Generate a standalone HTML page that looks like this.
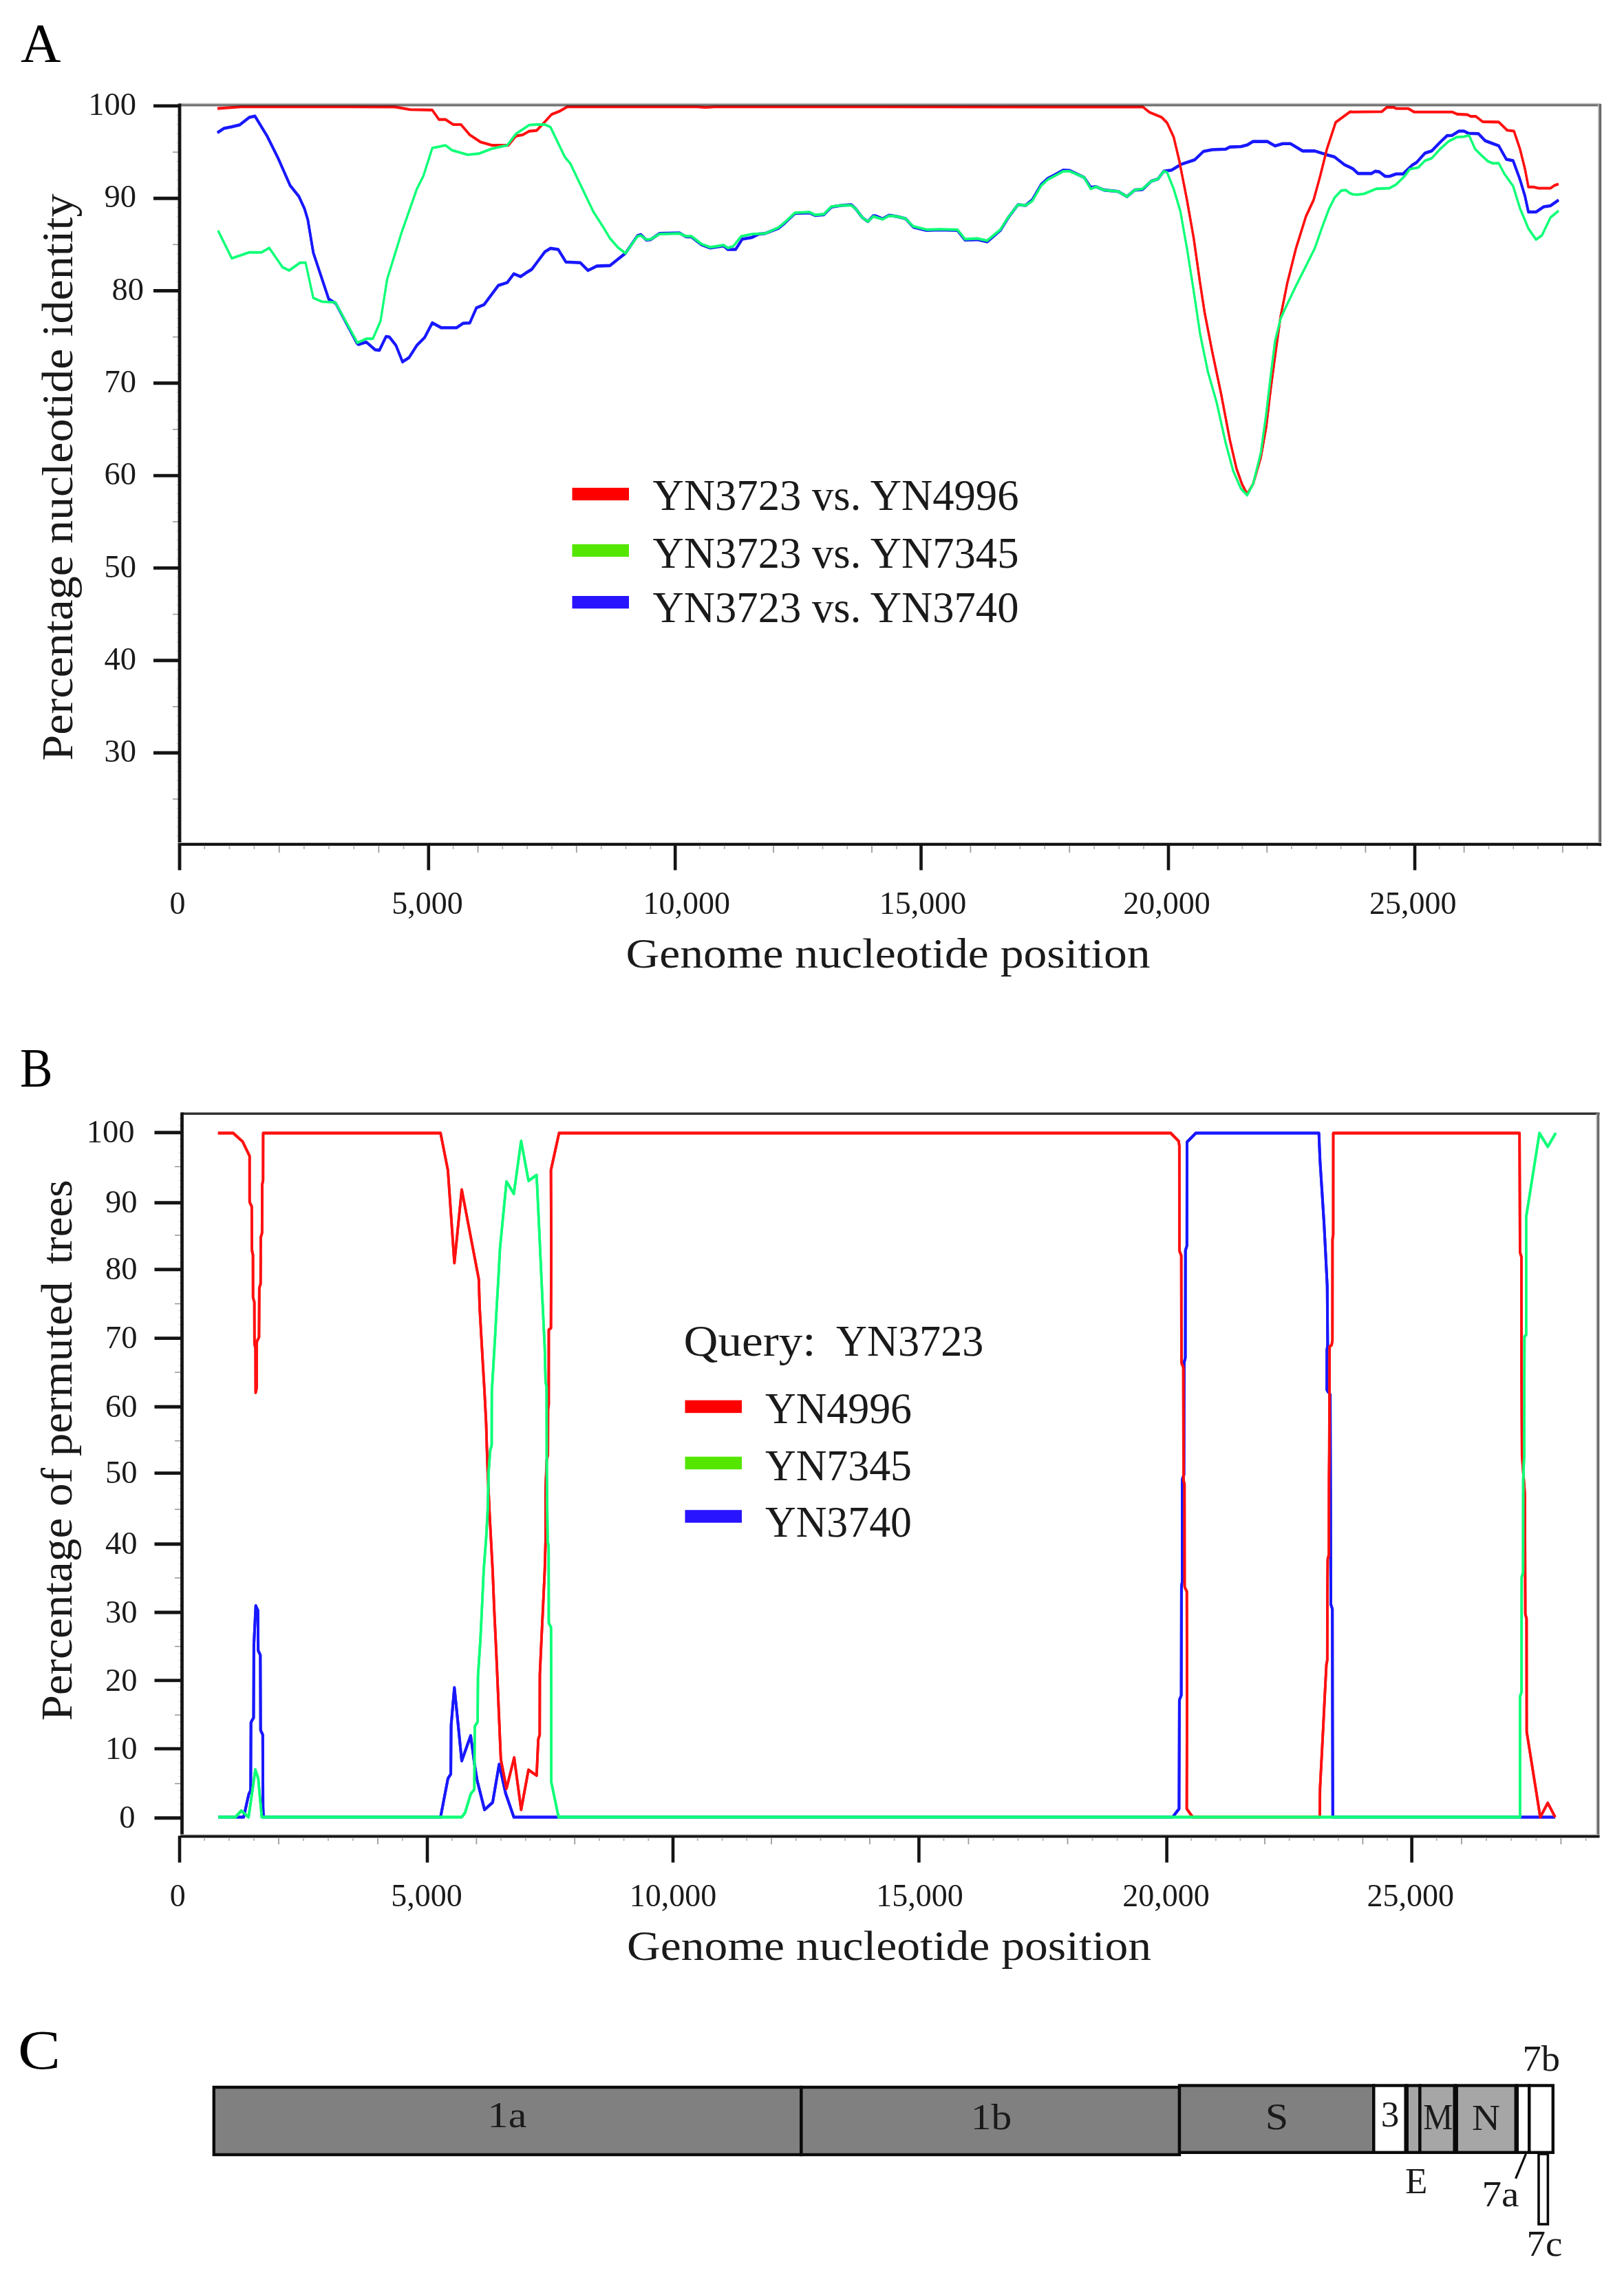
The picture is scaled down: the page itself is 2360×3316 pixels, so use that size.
<!DOCTYPE html>
<html lang="en"><head><meta charset="utf-8"><title>Figure</title>
<style>
html,body{margin:0;padding:0;background:#fff;}
svg{display:block;font-family:"Liberation Serif", serif;filter:blur(0.6px);}
</style></head><body>
<svg width="2360" height="3316" viewBox="0 0 2360 3316">
<rect width="2360" height="3316" fill="#ffffff"/>
<text x="30" y="89.5" font-size="80" textLength="58.5" lengthAdjust="spacingAndGlyphs" fill="#000">A</text>
<g fill="none" stroke="#1818ff" stroke-width="3.6" stroke-linejoin="round" stroke-linecap="butt">
<polyline points="316.0,192.8 325.6,186.4 336.8,184.2 348.1,181.6 362.5,170.4 370.5,168.8 388.1,197.6 404.1,229.7 421.7,269.7 434.5,285.7 442.5,303.3 447.3,319.3 455.3,367.3 477.7,434.6 488.0,441.0 518.7,498.6 521.0,500.5 532.2,497.0 545.0,508.2 551.4,508.9 561.0,489.0 565.8,489.7 575.4,501.8 585.0,525.8 594.6,519.4 605.8,501.8 617.0,490.6 628.2,469.2 641.0,476.2 663.4,476.2 673.1,469.8 682.7,469.2 692.3,447.4 703.5,442.6 724.3,414.7 737.1,410.6 746.7,397.8 756.3,401.9 767.5,394.6 772.8,391.4 782.4,378.5 792.0,365.7 800.0,360.9 811.2,362.5 822.4,380.8 843.3,381.7 854.5,393.0 867.3,386.6 886.5,385.9 897.7,376.9 908.9,368.0 926.5,342.4 931.3,341.1 939.3,348.8 945.7,348.1 958.5,339.2 987.3,338.5 996.9,344.0 1005.0,344.3 1019.4,355.5 1032.2,360.3 1041.8,358.7 1051.4,357.1 1057.8,362.5 1069.0,362.5 1078.6,347.5 1093.0,344.9 1102.6,340.1 1112.2,339.2 1131.4,331.5 1141.0,323.5 1155.4,310.0 1176.3,309.1 1184.3,312.9 1197.1,311.9 1208.3,300.7 1222.7,298.5 1237.1,297.5 1243.5,303.3 1253.1,316.1 1261.1,321.9 1269.1,313.5 1272.8,313.9 1282.4,318.0 1292.0,312.9 1303.2,314.5 1316.0,317.7 1327.2,329.9 1346.5,334.7 1365.7,334.0 1391.3,334.7 1402.5,348.8 1420.1,348.1 1434.5,351.3 1453.7,334.7 1464.9,316.7 1479.3,297.5 1490.5,298.5 1500.1,290.5 1513.0,268.1 1522.6,259.4 1532.2,254.3 1545.0,247.3 1554.6,247.9 1575.4,257.8 1585.0,272.2 1593.0,271.3 1604.2,276.1 1625.0,278.3 1637.8,285.7 1649.0,276.1 1660.2,275.4 1673.1,263.3 1682.7,260.1 1691.2,248.9 1702.4,247.3 1716.8,238.6 1736.1,232.2 1748.9,220.0 1761.7,217.5 1780.9,216.8 1787.3,213.6 1803.3,213.0 1812.9,210.4 1820.9,205.6 1841.7,205.6 1852.9,212.0 1864.1,208.8 1875.3,208.8 1893.0,219.4 1910.6,219.4 1928.2,224.9 1939.4,228.1 1953.8,239.3 1961.8,243.1 1966.2,245.4 1973.5,252.1 1993.3,252.1 1998.2,248.9 2004.3,249.6 2013.0,256.3 2019.1,256.3 2029.0,252.8 2038.8,252.8 2052.4,239.8 2058.5,236.1 2070.8,222.5 2080.7,219.3 2093.0,206.5 2102.9,197.1 2110.2,196.7 2120.1,190.5 2127.5,190.5 2133.6,193.7 2148.4,194.2 2158.3,204.5 2166.9,207.7 2178.0,211.9 2189.1,231.6 2198.9,233.6 2208.8,260.7 2216.2,285.3 2221.1,308.0 2232.2,308.0 2243.3,300.6 2253.1,298.9 2264.9,290.7" transform="translate(0,-0.5)"/>
<polyline points="316.0,192.8 325.6,186.4 336.8,184.2 348.1,181.6 362.5,170.4 370.5,168.8 388.1,197.6 404.1,229.7 421.7,269.7 434.5,285.7 442.5,303.3 447.3,319.3 455.3,367.3 477.7,434.6 488.0,441.0 518.7,498.6 521.0,500.5 532.2,497.0 545.0,508.2 551.4,508.9 561.0,489.0 565.8,489.7 575.4,501.8 585.0,525.8 594.6,519.4 605.8,501.8 617.0,490.6 628.2,469.2 641.0,476.2 663.4,476.2 673.1,469.8 682.7,469.2 692.3,447.4 703.5,442.6 724.3,414.7 737.1,410.6 746.7,397.8 756.3,401.9 767.5,394.6 772.8,391.4 782.4,378.5 792.0,365.7 800.0,360.9 811.2,362.5 822.4,380.8 843.3,381.7 854.5,393.0 867.3,386.6 886.5,385.9 897.7,376.9 908.9,368.0 926.5,342.4 931.3,341.1 939.3,348.8 945.7,348.1 958.5,339.2 987.3,338.5 996.9,344.0 1005.0,344.3 1019.4,355.5 1032.2,360.3 1041.8,358.7 1051.4,357.1 1057.8,362.5 1069.0,362.5 1078.6,347.5 1093.0,344.9 1102.6,340.1 1112.2,339.2 1131.4,331.5 1141.0,323.5 1155.4,310.0 1176.3,309.1 1184.3,312.9 1197.1,311.9 1208.3,300.7 1222.7,298.5 1237.1,297.5 1243.5,303.3 1253.1,316.1 1261.1,321.9 1269.1,313.5 1272.8,313.9 1282.4,318.0 1292.0,312.9 1303.2,314.5 1316.0,317.7 1327.2,329.9 1346.5,334.7 1365.7,334.0 1391.3,334.7 1402.5,348.8 1420.1,348.1 1434.5,351.3 1453.7,334.7 1464.9,316.7 1479.3,297.5 1490.5,298.5 1500.1,290.5 1513.0,268.1 1522.6,259.4 1532.2,254.3 1545.0,247.3 1554.6,247.9 1575.4,257.8 1585.0,272.2 1593.0,271.3 1604.2,276.1 1625.0,278.3 1637.8,285.7 1649.0,276.1 1660.2,275.4 1673.1,263.3 1682.7,260.1 1691.2,248.9 1702.4,247.3 1716.8,238.6 1736.1,232.2 1748.9,220.0 1761.7,217.5 1780.9,216.8 1787.3,213.6 1803.3,213.0 1812.9,210.4 1820.9,205.6 1841.7,205.6 1852.9,212.0 1864.1,208.8 1875.3,208.8 1893.0,219.4 1910.6,219.4 1928.2,224.9 1939.4,228.1 1953.8,239.3 1961.8,243.1 1966.2,245.4 1973.5,252.1 1993.3,252.1 1998.2,248.9 2004.3,249.6 2013.0,256.3 2019.1,256.3 2029.0,252.8 2038.8,252.8 2052.4,239.8 2058.5,236.1 2070.8,222.5 2080.7,219.3 2093.0,206.5 2102.9,197.1 2110.2,196.7 2120.1,190.5 2127.5,190.5 2133.6,193.7 2148.4,194.2 2158.3,204.5 2166.9,207.7 2178.0,211.9 2189.1,231.6 2198.9,233.6 2208.8,260.7 2216.2,285.3 2221.1,308.0 2232.2,308.0 2243.3,300.6 2253.1,298.9 2264.9,290.7" transform="translate(0,0.5)"/>
</g>
<g fill="none" stroke="#ff1010" stroke-width="3.2" stroke-linejoin="round" stroke-linecap="butt">
<polyline points="316.0,157.6 349.7,155.3 500.1,155.3 573.8,155.4 596.2,159.2 628.2,159.9 637.8,173.6 647.4,173.6 658.6,181.0 669.9,181.0 682.7,196.0 698.7,206.6 714.7,211.1 738.7,211.1 749.9,197.6 759.5,196.0 769.1,190.6 779.9,189.6 792.0,176.8 801.6,166.3 812.8,161.8 824.0,155.3 1013.0,155.3 1025.8,156.0 1038.6,155.3 1280.0,155.3 1660.8,155.4 1670.4,163.1 1688.0,170.4 1696.0,178.4 1705.6,199.2 1713.6,232.9 1724.9,290.5 1734.5,344.9 1744.1,412.2 1750.5,453.8 1761.7,511.4 1774.5,572.3 1787.3,639.5 1796.9,681.1 1804.9,703.5 1812.3,718.0 1820.9,703.5 1832.1,665.1 1840.1,620.3 1846.5,565.9 1852.9,517.8 1860.9,460.2 1870.5,412.2 1883.3,360.9 1897.8,314.5 1909.0,290.5 1918.6,255.3 1928.2,216.8 1941.0,177.8 1961.8,162.4 1966.2,162.7 2008.0,162.2 2015.4,156.0 2025.3,156.0 2029.0,157.7 2046.2,157.7 2054.8,162.7 2110.2,162.7 2117.6,165.9 2132.4,166.6 2137.3,169.1 2144.7,169.1 2154.6,176.9 2178.0,177.4 2190.3,189.3 2200.1,190.5 2208.8,216.4 2216.2,245.9 2221.1,271.8 2228.5,271.8 2235.9,273.5 2253.1,273.5 2259.3,269.3 2264.9,267.6" transform="translate(0,-0.45)"/>
<polyline points="316.0,157.6 349.7,155.3 500.1,155.3 573.8,155.4 596.2,159.2 628.2,159.9 637.8,173.6 647.4,173.6 658.6,181.0 669.9,181.0 682.7,196.0 698.7,206.6 714.7,211.1 738.7,211.1 749.9,197.6 759.5,196.0 769.1,190.6 779.9,189.6 792.0,176.8 801.6,166.3 812.8,161.8 824.0,155.3 1013.0,155.3 1025.8,156.0 1038.6,155.3 1280.0,155.3 1660.8,155.4 1670.4,163.1 1688.0,170.4 1696.0,178.4 1705.6,199.2 1713.6,232.9 1724.9,290.5 1734.5,344.9 1744.1,412.2 1750.5,453.8 1761.7,511.4 1774.5,572.3 1787.3,639.5 1796.9,681.1 1804.9,703.5 1812.3,718.0 1820.9,703.5 1832.1,665.1 1840.1,620.3 1846.5,565.9 1852.9,517.8 1860.9,460.2 1870.5,412.2 1883.3,360.9 1897.8,314.5 1909.0,290.5 1918.6,255.3 1928.2,216.8 1941.0,177.8 1961.8,162.4 1966.2,162.7 2008.0,162.2 2015.4,156.0 2025.3,156.0 2029.0,157.7 2046.2,157.7 2054.8,162.7 2110.2,162.7 2117.6,165.9 2132.4,166.6 2137.3,169.1 2144.7,169.1 2154.6,176.9 2178.0,177.4 2190.3,189.3 2200.1,190.5 2208.8,216.4 2216.2,245.9 2221.1,271.8 2228.5,271.8 2235.9,273.5 2253.1,273.5 2259.3,269.3 2264.9,267.6" transform="translate(0,0.45)"/>
</g>
<g fill="none" stroke="#10ff78" stroke-width="3.0" stroke-linejoin="round" stroke-linecap="butt">
<polyline points="317.0,335.3 336.8,375.3 362.5,366.7 380.1,366.7 391.3,360.3 410.5,388.2 420.1,393.0 436.1,381.7 444.1,381.7 455.3,433.0 468.1,438.4 487.3,439.4 519.4,498.0 532.2,492.2 541.8,492.2 553.0,466.6 562.6,405.8 583.4,338.5 605.8,274.5 615.4,255.3 628.2,215.2 647.4,211.1 657.0,218.4 679.5,224.9 695.5,223.3 714.7,216.2 737.1,211.1 749.9,194.4 769.1,181.6 779.9,181.0 792.0,181.0 800.0,184.8 820.8,228.1 828.8,237.7 862.5,308.1 876.9,330.5 886.5,346.5 897.7,359.3 908.9,368.0 926.5,343.3 931.3,342.4 939.3,348.1 945.7,347.5 958.5,340.1 987.3,339.2 996.9,343.3 1005.0,343.3 1019.4,354.5 1032.2,359.3 1041.8,357.7 1051.4,356.1 1057.8,360.3 1065.8,357.7 1077.0,343.3 1093.0,340.1 1112.2,339.2 1131.4,330.5 1141.0,322.5 1155.4,309.1 1176.3,308.1 1184.3,312.3 1197.1,311.3 1208.3,300.1 1222.7,298.5 1237.1,298.5 1243.5,303.3 1253.1,316.1 1261.1,321.9 1269.1,314.5 1282.4,318.7 1292.0,313.5 1303.2,314.5 1316.0,317.7 1327.2,328.9 1346.5,333.7 1365.7,333.1 1391.3,333.7 1402.5,347.5 1420.1,346.5 1434.5,349.7 1453.7,333.7 1464.9,316.1 1479.3,297.5 1490.5,298.5 1500.1,292.1 1513.0,269.7 1522.6,261.0 1532.2,255.9 1545.0,248.9 1554.6,248.9 1575.4,257.8 1585.0,274.5 1593.0,271.3 1604.2,276.1 1625.0,278.3 1637.8,285.7 1649.0,276.1 1660.2,274.5 1673.1,263.3 1682.7,260.1 1691.2,248.9 1696.0,250.5 1705.6,274.5 1715.2,306.5 1724.9,360.9 1734.5,421.8 1744.1,485.8 1755.3,540.2 1768.1,585.1 1780.9,642.7 1792.1,684.3 1803.3,710.0 1812.3,719.6 1820.9,703.5 1832.1,658.7 1840.1,601.1 1846.5,546.7 1852.9,495.4 1860.9,463.4 1867.3,449.0 1883.3,415.4 1896.2,389.8 1910.6,360.9 1921.8,328.9 1931.4,303.3 1939.4,287.3 1949.0,277.0 1955.4,276.1 1961.8,280.9 1966.2,282.4 1972.3,282.9 1982.2,281.6 2000.6,274.2 2019.1,273.5 2029.0,268.1 2041.3,255.8 2048.7,245.9 2061.0,243.4 2070.8,233.6 2080.7,229.9 2093.0,216.4 2105.3,205.3 2117.6,199.1 2127.5,198.6 2134.9,196.7 2143.5,216.4 2152.1,225.0 2162.0,234.1 2169.4,237.3 2178.0,237.3 2186.6,253.3 2198.9,270.5 2208.8,302.6 2221.1,332.1 2232.2,348.1 2240.8,342.0 2253.1,316.1 2264.9,306.3" transform="translate(0,-0.45)"/>
<polyline points="317.0,335.3 336.8,375.3 362.5,366.7 380.1,366.7 391.3,360.3 410.5,388.2 420.1,393.0 436.1,381.7 444.1,381.7 455.3,433.0 468.1,438.4 487.3,439.4 519.4,498.0 532.2,492.2 541.8,492.2 553.0,466.6 562.6,405.8 583.4,338.5 605.8,274.5 615.4,255.3 628.2,215.2 647.4,211.1 657.0,218.4 679.5,224.9 695.5,223.3 714.7,216.2 737.1,211.1 749.9,194.4 769.1,181.6 779.9,181.0 792.0,181.0 800.0,184.8 820.8,228.1 828.8,237.7 862.5,308.1 876.9,330.5 886.5,346.5 897.7,359.3 908.9,368.0 926.5,343.3 931.3,342.4 939.3,348.1 945.7,347.5 958.5,340.1 987.3,339.2 996.9,343.3 1005.0,343.3 1019.4,354.5 1032.2,359.3 1041.8,357.7 1051.4,356.1 1057.8,360.3 1065.8,357.7 1077.0,343.3 1093.0,340.1 1112.2,339.2 1131.4,330.5 1141.0,322.5 1155.4,309.1 1176.3,308.1 1184.3,312.3 1197.1,311.3 1208.3,300.1 1222.7,298.5 1237.1,298.5 1243.5,303.3 1253.1,316.1 1261.1,321.9 1269.1,314.5 1282.4,318.7 1292.0,313.5 1303.2,314.5 1316.0,317.7 1327.2,328.9 1346.5,333.7 1365.7,333.1 1391.3,333.7 1402.5,347.5 1420.1,346.5 1434.5,349.7 1453.7,333.7 1464.9,316.1 1479.3,297.5 1490.5,298.5 1500.1,292.1 1513.0,269.7 1522.6,261.0 1532.2,255.9 1545.0,248.9 1554.6,248.9 1575.4,257.8 1585.0,274.5 1593.0,271.3 1604.2,276.1 1625.0,278.3 1637.8,285.7 1649.0,276.1 1660.2,274.5 1673.1,263.3 1682.7,260.1 1691.2,248.9 1696.0,250.5 1705.6,274.5 1715.2,306.5 1724.9,360.9 1734.5,421.8 1744.1,485.8 1755.3,540.2 1768.1,585.1 1780.9,642.7 1792.1,684.3 1803.3,710.0 1812.3,719.6 1820.9,703.5 1832.1,658.7 1840.1,601.1 1846.5,546.7 1852.9,495.4 1860.9,463.4 1867.3,449.0 1883.3,415.4 1896.2,389.8 1910.6,360.9 1921.8,328.9 1931.4,303.3 1939.4,287.3 1949.0,277.0 1955.4,276.1 1961.8,280.9 1966.2,282.4 1972.3,282.9 1982.2,281.6 2000.6,274.2 2019.1,273.5 2029.0,268.1 2041.3,255.8 2048.7,245.9 2061.0,243.4 2070.8,233.6 2080.7,229.9 2093.0,216.4 2105.3,205.3 2117.6,199.1 2127.5,198.6 2134.9,196.7 2143.5,216.4 2152.1,225.0 2162.0,234.1 2169.4,237.3 2178.0,237.3 2186.6,253.3 2198.9,270.5 2208.8,302.6 2221.1,332.1 2232.2,348.1 2240.8,342.0 2253.1,316.1 2264.9,306.3" transform="translate(0,0.45)"/>
</g>
<g style="mix-blend-mode:multiply">
<line x1="261" y1="150.6" x2="2326" y2="150.6" stroke="#c4c8c8" stroke-width="1.6" stroke-linecap="butt"/>
<line x1="261" y1="152.9" x2="2326.5" y2="152.9" stroke="#707070" stroke-width="3.2" stroke-linecap="butt"/>
<line x1="2322.9" y1="151" x2="2322.9" y2="1227.5" stroke="#c4c4c4" stroke-width="1.6" stroke-linecap="butt"/>
<line x1="2325.4" y1="151" x2="2325.4" y2="1229.5" stroke="#6a6a6a" stroke-width="3.6" stroke-linecap="butt"/>
</g>
<line x1="251" y1="1161.15" x2="261" y2="1161.15" stroke="#9a9a9a" stroke-width="1.6" stroke-linecap="butt"/>
<line x1="251" y1="1026.85" x2="261" y2="1026.85" stroke="#9a9a9a" stroke-width="1.6" stroke-linecap="butt"/>
<line x1="251" y1="892.55" x2="261" y2="892.55" stroke="#9a9a9a" stroke-width="1.6" stroke-linecap="butt"/>
<line x1="251" y1="758.25" x2="261" y2="758.25" stroke="#9a9a9a" stroke-width="1.6" stroke-linecap="butt"/>
<line x1="251" y1="623.95" x2="261" y2="623.95" stroke="#9a9a9a" stroke-width="1.6" stroke-linecap="butt"/>
<line x1="251" y1="489.65" x2="261" y2="489.65" stroke="#9a9a9a" stroke-width="1.6" stroke-linecap="butt"/>
<line x1="251" y1="355.35" x2="261" y2="355.35" stroke="#9a9a9a" stroke-width="1.6" stroke-linecap="butt"/>
<line x1="251" y1="221.05" x2="261" y2="221.05" stroke="#9a9a9a" stroke-width="1.6" stroke-linecap="butt"/>
<line x1="256.5" y1="1214.8700000000001" x2="261" y2="1214.8700000000001" stroke="#c8c8c8" stroke-width="1" stroke-linecap="butt"/>
<line x1="256.5" y1="1201.44" x2="261" y2="1201.44" stroke="#c8c8c8" stroke-width="1" stroke-linecap="butt"/>
<line x1="256.5" y1="1188.01" x2="261" y2="1188.01" stroke="#c8c8c8" stroke-width="1" stroke-linecap="butt"/>
<line x1="256.5" y1="1174.58" x2="261" y2="1174.58" stroke="#c8c8c8" stroke-width="1" stroke-linecap="butt"/>
<line x1="256.5" y1="1147.72" x2="261" y2="1147.72" stroke="#c8c8c8" stroke-width="1" stroke-linecap="butt"/>
<line x1="256.5" y1="1134.29" x2="261" y2="1134.29" stroke="#c8c8c8" stroke-width="1" stroke-linecap="butt"/>
<line x1="256.5" y1="1120.8600000000001" x2="261" y2="1120.8600000000001" stroke="#c8c8c8" stroke-width="1" stroke-linecap="butt"/>
<line x1="256.5" y1="1107.43" x2="261" y2="1107.43" stroke="#c8c8c8" stroke-width="1" stroke-linecap="butt"/>
<line x1="256.5" y1="1080.57" x2="261" y2="1080.57" stroke="#c8c8c8" stroke-width="1" stroke-linecap="butt"/>
<line x1="256.5" y1="1067.14" x2="261" y2="1067.14" stroke="#c8c8c8" stroke-width="1" stroke-linecap="butt"/>
<line x1="256.5" y1="1053.71" x2="261" y2="1053.71" stroke="#c8c8c8" stroke-width="1" stroke-linecap="butt"/>
<line x1="256.5" y1="1040.28" x2="261" y2="1040.28" stroke="#c8c8c8" stroke-width="1" stroke-linecap="butt"/>
<line x1="256.5" y1="1013.42" x2="261" y2="1013.42" stroke="#c8c8c8" stroke-width="1" stroke-linecap="butt"/>
<line x1="256.5" y1="999.99" x2="261" y2="999.99" stroke="#c8c8c8" stroke-width="1" stroke-linecap="butt"/>
<line x1="256.5" y1="986.56" x2="261" y2="986.56" stroke="#c8c8c8" stroke-width="1" stroke-linecap="butt"/>
<line x1="256.5" y1="973.13" x2="261" y2="973.13" stroke="#c8c8c8" stroke-width="1" stroke-linecap="butt"/>
<line x1="256.5" y1="946.27" x2="261" y2="946.27" stroke="#c8c8c8" stroke-width="1" stroke-linecap="butt"/>
<line x1="256.5" y1="932.8399999999999" x2="261" y2="932.8399999999999" stroke="#c8c8c8" stroke-width="1" stroke-linecap="butt"/>
<line x1="256.5" y1="919.41" x2="261" y2="919.41" stroke="#c8c8c8" stroke-width="1" stroke-linecap="butt"/>
<line x1="256.5" y1="905.9799999999999" x2="261" y2="905.9799999999999" stroke="#c8c8c8" stroke-width="1" stroke-linecap="butt"/>
<line x1="256.5" y1="879.12" x2="261" y2="879.12" stroke="#c8c8c8" stroke-width="1" stroke-linecap="butt"/>
<line x1="256.5" y1="865.6899999999999" x2="261" y2="865.6899999999999" stroke="#c8c8c8" stroke-width="1" stroke-linecap="butt"/>
<line x1="256.5" y1="852.26" x2="261" y2="852.26" stroke="#c8c8c8" stroke-width="1" stroke-linecap="butt"/>
<line x1="256.5" y1="838.8299999999999" x2="261" y2="838.8299999999999" stroke="#c8c8c8" stroke-width="1" stroke-linecap="butt"/>
<line x1="256.5" y1="811.9699999999999" x2="261" y2="811.9699999999999" stroke="#c8c8c8" stroke-width="1" stroke-linecap="butt"/>
<line x1="256.5" y1="798.54" x2="261" y2="798.54" stroke="#c8c8c8" stroke-width="1" stroke-linecap="butt"/>
<line x1="256.5" y1="785.11" x2="261" y2="785.11" stroke="#c8c8c8" stroke-width="1" stroke-linecap="butt"/>
<line x1="256.5" y1="771.68" x2="261" y2="771.68" stroke="#c8c8c8" stroke-width="1" stroke-linecap="butt"/>
<line x1="256.5" y1="744.8199999999999" x2="261" y2="744.8199999999999" stroke="#c8c8c8" stroke-width="1" stroke-linecap="butt"/>
<line x1="256.5" y1="731.39" x2="261" y2="731.39" stroke="#c8c8c8" stroke-width="1" stroke-linecap="butt"/>
<line x1="256.5" y1="717.9599999999999" x2="261" y2="717.9599999999999" stroke="#c8c8c8" stroke-width="1" stroke-linecap="butt"/>
<line x1="256.5" y1="704.53" x2="261" y2="704.53" stroke="#c8c8c8" stroke-width="1" stroke-linecap="butt"/>
<line x1="256.5" y1="677.67" x2="261" y2="677.67" stroke="#c8c8c8" stroke-width="1" stroke-linecap="butt"/>
<line x1="256.5" y1="664.24" x2="261" y2="664.24" stroke="#c8c8c8" stroke-width="1" stroke-linecap="butt"/>
<line x1="256.5" y1="650.81" x2="261" y2="650.81" stroke="#c8c8c8" stroke-width="1" stroke-linecap="butt"/>
<line x1="256.5" y1="637.38" x2="261" y2="637.38" stroke="#c8c8c8" stroke-width="1" stroke-linecap="butt"/>
<line x1="256.5" y1="610.52" x2="261" y2="610.52" stroke="#c8c8c8" stroke-width="1" stroke-linecap="butt"/>
<line x1="256.5" y1="597.09" x2="261" y2="597.09" stroke="#c8c8c8" stroke-width="1" stroke-linecap="butt"/>
<line x1="256.5" y1="583.66" x2="261" y2="583.66" stroke="#c8c8c8" stroke-width="1" stroke-linecap="butt"/>
<line x1="256.5" y1="570.23" x2="261" y2="570.23" stroke="#c8c8c8" stroke-width="1" stroke-linecap="butt"/>
<line x1="256.5" y1="543.37" x2="261" y2="543.37" stroke="#c8c8c8" stroke-width="1" stroke-linecap="butt"/>
<line x1="256.5" y1="529.9399999999999" x2="261" y2="529.9399999999999" stroke="#c8c8c8" stroke-width="1" stroke-linecap="butt"/>
<line x1="256.5" y1="516.51" x2="261" y2="516.51" stroke="#c8c8c8" stroke-width="1" stroke-linecap="butt"/>
<line x1="256.5" y1="503.08000000000004" x2="261" y2="503.08000000000004" stroke="#c8c8c8" stroke-width="1" stroke-linecap="butt"/>
<line x1="256.5" y1="476.22" x2="261" y2="476.22" stroke="#c8c8c8" stroke-width="1" stroke-linecap="butt"/>
<line x1="256.5" y1="462.78999999999996" x2="261" y2="462.78999999999996" stroke="#c8c8c8" stroke-width="1" stroke-linecap="butt"/>
<line x1="256.5" y1="449.36" x2="261" y2="449.36" stroke="#c8c8c8" stroke-width="1" stroke-linecap="butt"/>
<line x1="256.5" y1="435.92999999999995" x2="261" y2="435.92999999999995" stroke="#c8c8c8" stroke-width="1" stroke-linecap="butt"/>
<line x1="256.5" y1="409.07" x2="261" y2="409.07" stroke="#c8c8c8" stroke-width="1" stroke-linecap="butt"/>
<line x1="256.5" y1="395.64" x2="261" y2="395.64" stroke="#c8c8c8" stroke-width="1" stroke-linecap="butt"/>
<line x1="256.5" y1="382.21000000000004" x2="261" y2="382.21000000000004" stroke="#c8c8c8" stroke-width="1" stroke-linecap="butt"/>
<line x1="256.5" y1="368.78" x2="261" y2="368.78" stroke="#c8c8c8" stroke-width="1" stroke-linecap="butt"/>
<line x1="256.5" y1="341.91999999999996" x2="261" y2="341.91999999999996" stroke="#c8c8c8" stroke-width="1" stroke-linecap="butt"/>
<line x1="256.5" y1="328.49" x2="261" y2="328.49" stroke="#c8c8c8" stroke-width="1" stroke-linecap="butt"/>
<line x1="256.5" y1="315.06" x2="261" y2="315.06" stroke="#c8c8c8" stroke-width="1" stroke-linecap="butt"/>
<line x1="256.5" y1="301.63" x2="261" y2="301.63" stroke="#c8c8c8" stroke-width="1" stroke-linecap="butt"/>
<line x1="256.5" y1="274.77" x2="261" y2="274.77" stroke="#c8c8c8" stroke-width="1" stroke-linecap="butt"/>
<line x1="256.5" y1="261.34000000000003" x2="261" y2="261.34000000000003" stroke="#c8c8c8" stroke-width="1" stroke-linecap="butt"/>
<line x1="256.5" y1="247.91" x2="261" y2="247.91" stroke="#c8c8c8" stroke-width="1" stroke-linecap="butt"/>
<line x1="256.5" y1="234.48000000000002" x2="261" y2="234.48000000000002" stroke="#c8c8c8" stroke-width="1" stroke-linecap="butt"/>
<line x1="256.5" y1="207.62" x2="261" y2="207.62" stroke="#c8c8c8" stroke-width="1" stroke-linecap="butt"/>
<line x1="256.5" y1="194.19" x2="261" y2="194.19" stroke="#c8c8c8" stroke-width="1" stroke-linecap="butt"/>
<line x1="256.5" y1="180.76" x2="261" y2="180.76" stroke="#c8c8c8" stroke-width="1" stroke-linecap="butt"/>
<line x1="256.5" y1="167.33" x2="261" y2="167.33" stroke="#c8c8c8" stroke-width="1" stroke-linecap="butt"/>
<line x1="261" y1="150.5" x2="261" y2="1264.5" stroke="#141414" stroke-width="4.8" stroke-linecap="butt"/>
<line x1="259" y1="1224.6" x2="2327" y2="1224.6" stroke="#b8b8b8" stroke-width="1.4" stroke-linecap="butt"/>
<line x1="259" y1="1227" x2="2327" y2="1227" stroke="#141414" stroke-width="3.8" stroke-linecap="butt"/>
<line x1="223" y1="1094.0" x2="261" y2="1094.0" stroke="#141414" stroke-width="4.9" stroke-linecap="butt"/>
<text x="198" y="1107.2" font-size="46.5" text-anchor="end" fill="#1a1a1a">30</text>
<line x1="223" y1="959.6999999999999" x2="261" y2="959.6999999999999" stroke="#141414" stroke-width="4.9" stroke-linecap="butt"/>
<text x="198" y="972.9" font-size="46.5" text-anchor="end" fill="#1a1a1a">40</text>
<line x1="223" y1="825.4" x2="261" y2="825.4" stroke="#141414" stroke-width="4.9" stroke-linecap="butt"/>
<text x="198" y="838.6" font-size="46.5" text-anchor="end" fill="#1a1a1a">50</text>
<line x1="223" y1="691.1" x2="261" y2="691.1" stroke="#141414" stroke-width="4.9" stroke-linecap="butt"/>
<text x="198" y="704.3" font-size="46.5" text-anchor="end" fill="#1a1a1a">60</text>
<line x1="223" y1="556.8" x2="261" y2="556.8" stroke="#141414" stroke-width="4.9" stroke-linecap="butt"/>
<text x="198" y="570.0" font-size="46.5" text-anchor="end" fill="#1a1a1a">70</text>
<line x1="223" y1="422.5" x2="261" y2="422.5" stroke="#141414" stroke-width="4.9" stroke-linecap="butt"/>
<text x="209" y="435.7" font-size="46.5" text-anchor="end" fill="#1a1a1a">80</text>
<line x1="223" y1="288.20000000000005" x2="261" y2="288.20000000000005" stroke="#141414" stroke-width="4.9" stroke-linecap="butt"/>
<text x="198" y="301.4" font-size="46.5" text-anchor="end" fill="#1a1a1a">90</text>
<line x1="223" y1="153.9" x2="261" y2="153.9" stroke="#141414" stroke-width="4.9" stroke-linecap="butt"/>
<text x="198" y="167.1" font-size="46.5" text-anchor="end" fill="#1a1a1a">100</text>
<text x="258" y="1328" font-size="46" text-anchor="middle" fill="#1a1a1a">0</text>
<line x1="622.8" y1="1227.5" x2="622.8" y2="1264.5" stroke="#141414" stroke-width="4.6" stroke-linecap="butt"/>
<text x="621" y="1328" font-size="46" text-anchor="middle" fill="#1a1a1a">5,000</text>
<line x1="981.2" y1="1227.5" x2="981.2" y2="1264.5" stroke="#141414" stroke-width="4.6" stroke-linecap="butt"/>
<text x="997.8" y="1328" font-size="46" text-anchor="middle" fill="#1a1a1a">10,000</text>
<line x1="1338.5" y1="1227.5" x2="1338.5" y2="1264.5" stroke="#141414" stroke-width="4.6" stroke-linecap="butt"/>
<text x="1340.9" y="1328" font-size="46" text-anchor="middle" fill="#1a1a1a">15,000</text>
<line x1="1698.0" y1="1227.5" x2="1698.0" y2="1264.5" stroke="#141414" stroke-width="4.6" stroke-linecap="butt"/>
<text x="1695.5" y="1328" font-size="46" text-anchor="middle" fill="#1a1a1a">20,000</text>
<line x1="2056.0" y1="1227.5" x2="2056.0" y2="1264.5" stroke="#141414" stroke-width="4.6" stroke-linecap="butt"/>
<text x="2053.3" y="1328" font-size="46" text-anchor="middle" fill="#1a1a1a">25,000</text>
<line x1="297.2" y1="1228.8" x2="297.2" y2="1234.0" stroke="#b4b4b4" stroke-width="1.8" stroke-linecap="butt"/>
<line x1="333.4" y1="1228.8" x2="333.4" y2="1234.0" stroke="#b4b4b4" stroke-width="1.8" stroke-linecap="butt"/>
<line x1="369.5" y1="1228.8" x2="369.5" y2="1234.0" stroke="#b4b4b4" stroke-width="1.8" stroke-linecap="butt"/>
<line x1="405.7" y1="1228.8" x2="405.7" y2="1239.0" stroke="#9c9c9c" stroke-width="1.8" stroke-linecap="butt"/>
<line x1="441.9" y1="1228.8" x2="441.9" y2="1234.0" stroke="#b4b4b4" stroke-width="1.8" stroke-linecap="butt"/>
<line x1="478.1" y1="1228.8" x2="478.1" y2="1234.0" stroke="#b4b4b4" stroke-width="1.8" stroke-linecap="butt"/>
<line x1="514.3" y1="1228.8" x2="514.3" y2="1234.0" stroke="#b4b4b4" stroke-width="1.8" stroke-linecap="butt"/>
<line x1="550.4" y1="1228.8" x2="550.4" y2="1239.0" stroke="#9c9c9c" stroke-width="1.8" stroke-linecap="butt"/>
<line x1="586.6" y1="1228.8" x2="586.6" y2="1234.0" stroke="#b4b4b4" stroke-width="1.8" stroke-linecap="butt"/>
<line x1="658.6" y1="1228.8" x2="658.6" y2="1234.0" stroke="#b4b4b4" stroke-width="1.8" stroke-linecap="butt"/>
<line x1="694.5" y1="1228.8" x2="694.5" y2="1239.0" stroke="#9c9c9c" stroke-width="1.8" stroke-linecap="butt"/>
<line x1="730.3" y1="1228.8" x2="730.3" y2="1234.0" stroke="#b4b4b4" stroke-width="1.8" stroke-linecap="butt"/>
<line x1="766.2" y1="1228.8" x2="766.2" y2="1234.0" stroke="#b4b4b4" stroke-width="1.8" stroke-linecap="butt"/>
<line x1="802.0" y1="1228.8" x2="802.0" y2="1234.0" stroke="#b4b4b4" stroke-width="1.8" stroke-linecap="butt"/>
<line x1="837.8" y1="1228.8" x2="837.8" y2="1239.0" stroke="#9c9c9c" stroke-width="1.8" stroke-linecap="butt"/>
<line x1="873.7" y1="1228.8" x2="873.7" y2="1234.0" stroke="#b4b4b4" stroke-width="1.8" stroke-linecap="butt"/>
<line x1="909.5" y1="1228.8" x2="909.5" y2="1234.0" stroke="#b4b4b4" stroke-width="1.8" stroke-linecap="butt"/>
<line x1="945.4" y1="1228.8" x2="945.4" y2="1234.0" stroke="#b4b4b4" stroke-width="1.8" stroke-linecap="butt"/>
<line x1="1016.9" y1="1228.8" x2="1016.9" y2="1234.0" stroke="#b4b4b4" stroke-width="1.8" stroke-linecap="butt"/>
<line x1="1052.7" y1="1228.8" x2="1052.7" y2="1234.0" stroke="#b4b4b4" stroke-width="1.8" stroke-linecap="butt"/>
<line x1="1088.4" y1="1228.8" x2="1088.4" y2="1234.0" stroke="#b4b4b4" stroke-width="1.8" stroke-linecap="butt"/>
<line x1="1124.1" y1="1228.8" x2="1124.1" y2="1239.0" stroke="#9c9c9c" stroke-width="1.8" stroke-linecap="butt"/>
<line x1="1159.8" y1="1228.8" x2="1159.8" y2="1234.0" stroke="#b4b4b4" stroke-width="1.8" stroke-linecap="butt"/>
<line x1="1195.6" y1="1228.8" x2="1195.6" y2="1234.0" stroke="#b4b4b4" stroke-width="1.8" stroke-linecap="butt"/>
<line x1="1231.3" y1="1228.8" x2="1231.3" y2="1234.0" stroke="#b4b4b4" stroke-width="1.8" stroke-linecap="butt"/>
<line x1="1267.0" y1="1228.8" x2="1267.0" y2="1239.0" stroke="#9c9c9c" stroke-width="1.8" stroke-linecap="butt"/>
<line x1="1302.8" y1="1228.8" x2="1302.8" y2="1234.0" stroke="#b4b4b4" stroke-width="1.8" stroke-linecap="butt"/>
<line x1="1374.5" y1="1228.8" x2="1374.5" y2="1234.0" stroke="#b4b4b4" stroke-width="1.8" stroke-linecap="butt"/>
<line x1="1410.4" y1="1228.8" x2="1410.4" y2="1239.0" stroke="#9c9c9c" stroke-width="1.8" stroke-linecap="butt"/>
<line x1="1446.3" y1="1228.8" x2="1446.3" y2="1234.0" stroke="#b4b4b4" stroke-width="1.8" stroke-linecap="butt"/>
<line x1="1482.3" y1="1228.8" x2="1482.3" y2="1234.0" stroke="#b4b4b4" stroke-width="1.8" stroke-linecap="butt"/>
<line x1="1518.2" y1="1228.8" x2="1518.2" y2="1234.0" stroke="#b4b4b4" stroke-width="1.8" stroke-linecap="butt"/>
<line x1="1554.2" y1="1228.8" x2="1554.2" y2="1239.0" stroke="#9c9c9c" stroke-width="1.8" stroke-linecap="butt"/>
<line x1="1590.2" y1="1228.8" x2="1590.2" y2="1234.0" stroke="#b4b4b4" stroke-width="1.8" stroke-linecap="butt"/>
<line x1="1626.1" y1="1228.8" x2="1626.1" y2="1234.0" stroke="#b4b4b4" stroke-width="1.8" stroke-linecap="butt"/>
<line x1="1662.0" y1="1228.8" x2="1662.0" y2="1234.0" stroke="#b4b4b4" stroke-width="1.8" stroke-linecap="butt"/>
<line x1="1733.8" y1="1228.8" x2="1733.8" y2="1234.0" stroke="#b4b4b4" stroke-width="1.8" stroke-linecap="butt"/>
<line x1="1769.6" y1="1228.8" x2="1769.6" y2="1234.0" stroke="#b4b4b4" stroke-width="1.8" stroke-linecap="butt"/>
<line x1="1805.4" y1="1228.8" x2="1805.4" y2="1234.0" stroke="#b4b4b4" stroke-width="1.8" stroke-linecap="butt"/>
<line x1="1841.2" y1="1228.8" x2="1841.2" y2="1239.0" stroke="#9c9c9c" stroke-width="1.8" stroke-linecap="butt"/>
<line x1="1877.0" y1="1228.8" x2="1877.0" y2="1234.0" stroke="#b4b4b4" stroke-width="1.8" stroke-linecap="butt"/>
<line x1="1912.8" y1="1228.8" x2="1912.8" y2="1234.0" stroke="#b4b4b4" stroke-width="1.8" stroke-linecap="butt"/>
<line x1="1948.6" y1="1228.8" x2="1948.6" y2="1234.0" stroke="#b4b4b4" stroke-width="1.8" stroke-linecap="butt"/>
<line x1="1984.4" y1="1228.8" x2="1984.4" y2="1239.0" stroke="#9c9c9c" stroke-width="1.8" stroke-linecap="butt"/>
<line x1="2020.2" y1="1228.8" x2="2020.2" y2="1234.0" stroke="#b4b4b4" stroke-width="1.8" stroke-linecap="butt"/>
<line x1="2091.8" y1="1228.8" x2="2091.8" y2="1234.0" stroke="#b4b4b4" stroke-width="1.8" stroke-linecap="butt"/>
<line x1="2127.6" y1="1228.8" x2="2127.6" y2="1239.0" stroke="#9c9c9c" stroke-width="1.8" stroke-linecap="butt"/>
<line x1="2163.4" y1="1228.8" x2="2163.4" y2="1234.0" stroke="#b4b4b4" stroke-width="1.8" stroke-linecap="butt"/>
<line x1="2199.2" y1="1228.8" x2="2199.2" y2="1234.0" stroke="#b4b4b4" stroke-width="1.8" stroke-linecap="butt"/>
<line x1="2235.0" y1="1228.8" x2="2235.0" y2="1234.0" stroke="#b4b4b4" stroke-width="1.8" stroke-linecap="butt"/>
<line x1="2270.8" y1="1228.8" x2="2270.8" y2="1239.0" stroke="#9c9c9c" stroke-width="1.8" stroke-linecap="butt"/>
<line x1="2306.6" y1="1228.8" x2="2306.6" y2="1234.0" stroke="#b4b4b4" stroke-width="1.8" stroke-linecap="butt"/>
<text x="104.5" y="1105.5" font-size="63" textLength="824" lengthAdjust="spacingAndGlyphs" transform="rotate(-90 104.5 1105.5)" fill="#1a1a1a">Percentage nucleotide identity</text>
<text x="909.5" y="1406" font-size="62" textLength="762" lengthAdjust="spacingAndGlyphs" fill="#1a1a1a">Genome nucleotide position</text>
<rect x="831.5" y="708.8" width="82.5" height="18.3" fill="#ff0000"/>
<text x="948.5" y="740.7" font-size="63" textLength="532" lengthAdjust="spacingAndGlyphs" fill="#1a1a1a">YN3723 vs. YN4996</text>
<rect x="831.5" y="790.8" width="82.5" height="18.3" fill="#55e600"/>
<text x="948.5" y="824.9" font-size="63" textLength="532" lengthAdjust="spacingAndGlyphs" fill="#1a1a1a">YN3723 vs. YN7345</text>
<rect x="831.5" y="866" width="82.5" height="18.3" fill="#2814ff"/>
<text x="948.5" y="903.8" font-size="63" textLength="532" lengthAdjust="spacingAndGlyphs" fill="#1a1a1a">YN3723 vs. YN3740</text>
<text x="29" y="1578.5" font-size="80" textLength="47.5" lengthAdjust="spacingAndGlyphs" fill="#000">B</text>
<line x1="264" y1="1618.3" x2="2324.5" y2="1618.3" stroke="#333" stroke-width="3.6" stroke-linecap="butt"/>
<line x1="2320.2" y1="1618.5" x2="2320.2" y2="2667.5" stroke="#c4c4c4" stroke-width="1.6" stroke-linecap="butt"/>
<line x1="2322.6" y1="1617.0" x2="2322.6" y2="2669.5" stroke="#6a6a6a" stroke-width="3.4" stroke-linecap="butt"/>
<g fill="none" stroke="#1818ff" stroke-width="3.9" stroke-linejoin="round" stroke-linecap="butt">
<polyline points="317.3,2640.5 345.4,2640.5 354.1,2640.5 361.2,2608.4 361.7,2606.9 364.3,2601.4 364.7,2503.2 365.3,2501.7 368.5,2496.2 368.9,2391.0 371.7,2333.2 372.2,2334.7 374.8,2340.2 375.2,2398.0 375.7,2399.5 378.3,2405.0 378.7,2513.7 379.2,2515.2 381.8,2520.7 382.2,2625.9 382.9,2640.5 640.2,2640.5 650.9,2584.8 651.6,2583.3 655.1,2577.8 655.6,2506.7 660.3,2452.3 665.1,2499.6 671.0,2558.7 684.0,2522.1 689.9,2565.8 693.4,2587.1 704.1,2629.7 715.9,2619.1 725.4,2563.5 734.8,2606.1 746.7,2640.5 1704.1,2640.5 1713.4,2628.4 1713.9,2470.5 1714.4,2469.0 1716.6,2463.5 1716.9,2305.6 1717.1,2304.1 1718.0,2298.6 1718.1,2150.0 1718.5,2148.5 1720.5,2143.0 1720.8,1980.0 1721.1,1978.5 1722.5,1973.0 1722.7,1817.4 1723.0,1815.9 1724.8,1810.4 1725.0,1659.5 1737.8,1646.5 1916.6,1646.5 1918.3,1687.3 1921.3,1733.8 1924.1,1777.9 1926.4,1822.0 1928.7,1868.5 1929.4,1954.4 1929.2,1955.9 1928.3,1961.4 1928.2,2019.5 1929.0,2021.0 1933.1,2026.5 1933.6,2175.5 1934.0,2331.1 1934.4,2332.6 1936.2,2338.1 1936.4,2484.4 1936.8,2640.5 2260.0,2640.5" transform="translate(0,-0.35)"/>
<polyline points="317.3,2640.5 345.4,2640.5 354.1,2640.5 361.2,2608.4 361.7,2606.9 364.3,2601.4 364.7,2503.2 365.3,2501.7 368.5,2496.2 368.9,2391.0 371.7,2333.2 372.2,2334.7 374.8,2340.2 375.2,2398.0 375.7,2399.5 378.3,2405.0 378.7,2513.7 379.2,2515.2 381.8,2520.7 382.2,2625.9 382.9,2640.5 640.2,2640.5 650.9,2584.8 651.6,2583.3 655.1,2577.8 655.6,2506.7 660.3,2452.3 665.1,2499.6 671.0,2558.7 684.0,2522.1 689.9,2565.8 693.4,2587.1 704.1,2629.7 715.9,2619.1 725.4,2563.5 734.8,2606.1 746.7,2640.5 1704.1,2640.5 1713.4,2628.4 1713.9,2470.5 1714.4,2469.0 1716.6,2463.5 1716.9,2305.6 1717.1,2304.1 1718.0,2298.6 1718.1,2150.0 1718.5,2148.5 1720.5,2143.0 1720.8,1980.0 1721.1,1978.5 1722.5,1973.0 1722.7,1817.4 1723.0,1815.9 1724.8,1810.4 1725.0,1659.5 1737.8,1646.5 1916.6,1646.5 1918.3,1687.3 1921.3,1733.8 1924.1,1777.9 1926.4,1822.0 1928.7,1868.5 1929.4,1954.4 1929.2,1955.9 1928.3,1961.4 1928.2,2019.5 1929.0,2021.0 1933.1,2026.5 1933.6,2175.5 1934.0,2331.1 1934.4,2332.6 1936.2,2338.1 1936.4,2484.4 1936.8,2640.5 2260.0,2640.5" transform="translate(0,0.35)"/>
</g>
<g fill="none" stroke="#ff1010" stroke-width="3.7" stroke-linejoin="round" stroke-linecap="butt">
<polyline points="316.8,1646.5 338.9,1646.5 352.6,1658.9 362.7,1679.9 362.7,1746.2 363.2,1747.7 365.8,1753.2 366.2,1816.6 366.4,1818.1 367.6,1823.6 367.7,1885.0 368.0,1886.5 369.6,1892.0 369.8,1952.2 370.1,1953.7 371.3,1959.2 371.5,2023.7 371.8,2022.2 373.0,2016.7 373.2,1950.1 373.7,1948.6 376.4,1943.1 376.8,1872.3 377.1,1870.8 378.7,1865.3 378.9,1798.7 379.2,1797.2 380.8,1791.7 381.0,1722.0 381.2,1720.5 382.3,1715.0 382.4,1646.5 385.2,1646.5 640.2,1646.5 650.9,1700.4 660.3,1835.3 671.0,1728.8 695.8,1858.9 697.0,1899.2 699.4,1941.7 701.7,1982.0 704.1,2022.2 706.5,2069.5 707.6,2107.4 708.8,2140.0 711.2,2194.4 713.6,2239.4 715.9,2281.9 718.3,2341.1 720.7,2390.8 723.0,2442.8 725.4,2499.6 727.8,2556.4 736.0,2599.0 747.2,2554.0 757.3,2629.7 768.0,2571.8 779.8,2580.0 782.2,2528.0 782.5,2526.5 784.3,2521.0 784.5,2433.4 786.9,2381.3 789.3,2331.6 791.6,2281.9 792.8,2239.4 792.8,2166.0 794.5,2121.5 794.8,2120.0 796.2,2114.5 796.4,2048.2 796.6,2046.7 797.4,2041.2 797.5,1932.3 800.6,1929.9 801.1,1814.0 800.6,1700.4 812.4,1646.5 815.3,1646.5 1701.3,1646.5 1713.0,1658.3 1713.1,1659.8 1713.8,1665.3 1713.9,1817.4 1714.4,1818.9 1716.6,1824.4 1716.9,1980.0 1717.4,1981.5 1719.6,1987.0 1719.9,2150.0 1720.1,2151.5 1721.3,2157.0 1721.5,2305.6 1722.0,2307.1 1724.7,2312.6 1725.0,2470.5 1724.6,2628.4 1733.2,2640.5 1917.8,2640.5 1918.3,2598.2 1920.6,2554.1 1922.9,2510.0 1925.2,2463.5 1927.5,2419.4 1927.7,2417.9 1928.8,2412.4 1928.9,2331.1 1929.4,2266.1 1929.7,2264.6 1931.1,2259.1 1931.3,2150.0 1931.7,2110.0 1932.2,1956.7 1935.2,1954.4 1935.4,1952.9 1936.3,1947.4 1936.4,1801.1 1936.6,1799.6 1937.4,1794.1 1937.5,1646.5 1941.0,1646.5 2208.2,1646.5 2208.9,1819.3 2209.2,1820.8 2210.9,1826.3 2211.1,1995.2 2211.8,2115.7 2215.9,2170.5 2216.6,2345.2 2216.9,2346.7 2218.4,2352.2 2218.6,2516.3 2238.3,2640.5 2249.2,2619.9 2260.0,2640.5" transform="translate(0,-0.35)"/>
<polyline points="316.8,1646.5 338.9,1646.5 352.6,1658.9 362.7,1679.9 362.7,1746.2 363.2,1747.7 365.8,1753.2 366.2,1816.6 366.4,1818.1 367.6,1823.6 367.7,1885.0 368.0,1886.5 369.6,1892.0 369.8,1952.2 370.1,1953.7 371.3,1959.2 371.5,2023.7 371.8,2022.2 373.0,2016.7 373.2,1950.1 373.7,1948.6 376.4,1943.1 376.8,1872.3 377.1,1870.8 378.7,1865.3 378.9,1798.7 379.2,1797.2 380.8,1791.7 381.0,1722.0 381.2,1720.5 382.3,1715.0 382.4,1646.5 385.2,1646.5 640.2,1646.5 650.9,1700.4 660.3,1835.3 671.0,1728.8 695.8,1858.9 697.0,1899.2 699.4,1941.7 701.7,1982.0 704.1,2022.2 706.5,2069.5 707.6,2107.4 708.8,2140.0 711.2,2194.4 713.6,2239.4 715.9,2281.9 718.3,2341.1 720.7,2390.8 723.0,2442.8 725.4,2499.6 727.8,2556.4 736.0,2599.0 747.2,2554.0 757.3,2629.7 768.0,2571.8 779.8,2580.0 782.2,2528.0 782.5,2526.5 784.3,2521.0 784.5,2433.4 786.9,2381.3 789.3,2331.6 791.6,2281.9 792.8,2239.4 792.8,2166.0 794.5,2121.5 794.8,2120.0 796.2,2114.5 796.4,2048.2 796.6,2046.7 797.4,2041.2 797.5,1932.3 800.6,1929.9 801.1,1814.0 800.6,1700.4 812.4,1646.5 815.3,1646.5 1701.3,1646.5 1713.0,1658.3 1713.1,1659.8 1713.8,1665.3 1713.9,1817.4 1714.4,1818.9 1716.6,1824.4 1716.9,1980.0 1717.4,1981.5 1719.6,1987.0 1719.9,2150.0 1720.1,2151.5 1721.3,2157.0 1721.5,2305.6 1722.0,2307.1 1724.7,2312.6 1725.0,2470.5 1724.6,2628.4 1733.2,2640.5 1917.8,2640.5 1918.3,2598.2 1920.6,2554.1 1922.9,2510.0 1925.2,2463.5 1927.5,2419.4 1927.7,2417.9 1928.8,2412.4 1928.9,2331.1 1929.4,2266.1 1929.7,2264.6 1931.1,2259.1 1931.3,2150.0 1931.7,2110.0 1932.2,1956.7 1935.2,1954.4 1935.4,1952.9 1936.3,1947.4 1936.4,1801.1 1936.6,1799.6 1937.4,1794.1 1937.5,1646.5 1941.0,1646.5 2208.2,1646.5 2208.9,1819.3 2209.2,1820.8 2210.9,1826.3 2211.1,1995.2 2211.8,2115.7 2215.9,2170.5 2216.6,2345.2 2216.9,2346.7 2218.4,2352.2 2218.6,2516.3 2238.3,2640.5 2249.2,2619.9 2260.0,2640.5" transform="translate(0,0.35)"/>
</g>
<g fill="none" stroke="#10ff78" stroke-width="3.6" stroke-linejoin="round" stroke-linecap="butt">
<polyline points="317.3,2640.5 341.9,2640.5 350.6,2631.2 361.2,2640.5 366.4,2604.9 371.0,2571.6 375.2,2583.9 380.4,2640.5 382.9,2640.5 671.0,2640.5 675.7,2634.4 684.0,2607.2 684.9,2605.7 689.3,2600.2 689.9,2509.1 690.6,2507.6 694.1,2502.1 694.6,2435.7 698.2,2381.3 700.5,2334.0 702.9,2281.9 706.5,2234.6 708.8,2192.0 710.0,2140.0 712.4,2107.4 712.7,2105.9 714.5,2100.4 714.7,2022.2 717.1,1982.0 719.5,1941.7 721.8,1899.2 724.2,1858.9 726.6,1814.0 736.0,1717.0 746.7,1734.7 757.3,1657.9 768.0,1715.8 779.8,1707.5 782.2,1757.2 784.5,1806.9 786.9,1858.9 789.3,1911.0 791.6,1958.3 792.8,2008.0 793.1,2009.5 794.3,2015.0 794.5,2121.5 795.2,2187.3 795.9,2239.4 796.1,2240.9 797.3,2246.4 797.5,2357.7 798.0,2359.2 800.7,2364.7 801.1,2471.2 801.1,2589.5 811.7,2640.5 812.9,2640.5 2208.9,2640.5 2208.9,2465.7 2209.3,2464.2 2211.1,2458.7 2211.3,2292.2 2211.6,2290.7 2213.3,2285.2 2213.5,2150.0 2214.9,2115.7 2215.4,1942.2 2217.8,1939.8 2217.8,1768.7 2237.1,1646.5 2249.2,1666.3 2260.7,1646.5" transform="translate(0,-0.45)"/>
<polyline points="317.3,2640.5 341.9,2640.5 350.6,2631.2 361.2,2640.5 366.4,2604.9 371.0,2571.6 375.2,2583.9 380.4,2640.5 382.9,2640.5 671.0,2640.5 675.7,2634.4 684.0,2607.2 684.9,2605.7 689.3,2600.2 689.9,2509.1 690.6,2507.6 694.1,2502.1 694.6,2435.7 698.2,2381.3 700.5,2334.0 702.9,2281.9 706.5,2234.6 708.8,2192.0 710.0,2140.0 712.4,2107.4 712.7,2105.9 714.5,2100.4 714.7,2022.2 717.1,1982.0 719.5,1941.7 721.8,1899.2 724.2,1858.9 726.6,1814.0 736.0,1717.0 746.7,1734.7 757.3,1657.9 768.0,1715.8 779.8,1707.5 782.2,1757.2 784.5,1806.9 786.9,1858.9 789.3,1911.0 791.6,1958.3 792.8,2008.0 793.1,2009.5 794.3,2015.0 794.5,2121.5 795.2,2187.3 795.9,2239.4 796.1,2240.9 797.3,2246.4 797.5,2357.7 798.0,2359.2 800.7,2364.7 801.1,2471.2 801.1,2589.5 811.7,2640.5 812.9,2640.5 2208.9,2640.5 2208.9,2465.7 2209.3,2464.2 2211.1,2458.7 2211.3,2292.2 2211.6,2290.7 2213.3,2285.2 2213.5,2150.0 2214.9,2115.7 2215.4,1942.2 2217.8,1939.8 2217.8,1768.7 2237.1,1646.5 2249.2,1666.3 2260.7,1646.5" transform="translate(0,0.45)"/>
</g>
<line x1="254" y1="2591.7" x2="264" y2="2591.7" stroke="#9a9a9a" stroke-width="1.6" stroke-linecap="butt"/>
<line x1="254" y1="2492.1" x2="264" y2="2492.1" stroke="#9a9a9a" stroke-width="1.6" stroke-linecap="butt"/>
<line x1="254" y1="2392.5" x2="264" y2="2392.5" stroke="#9a9a9a" stroke-width="1.6" stroke-linecap="butt"/>
<line x1="254" y1="2292.9" x2="264" y2="2292.9" stroke="#9a9a9a" stroke-width="1.6" stroke-linecap="butt"/>
<line x1="254" y1="2193.3" x2="264" y2="2193.3" stroke="#9a9a9a" stroke-width="1.6" stroke-linecap="butt"/>
<line x1="254" y1="2093.7" x2="264" y2="2093.7" stroke="#9a9a9a" stroke-width="1.6" stroke-linecap="butt"/>
<line x1="254" y1="1994.1" x2="264" y2="1994.1" stroke="#9a9a9a" stroke-width="1.6" stroke-linecap="butt"/>
<line x1="254" y1="1894.5" x2="264" y2="1894.5" stroke="#9a9a9a" stroke-width="1.6" stroke-linecap="butt"/>
<line x1="254" y1="1794.9" x2="264" y2="1794.9" stroke="#9a9a9a" stroke-width="1.6" stroke-linecap="butt"/>
<line x1="254" y1="1695.3" x2="264" y2="1695.3" stroke="#9a9a9a" stroke-width="1.6" stroke-linecap="butt"/>
<line x1="259.5" y1="2631.54" x2="264" y2="2631.54" stroke="#c8c8c8" stroke-width="1" stroke-linecap="butt"/>
<line x1="259.5" y1="2621.58" x2="264" y2="2621.58" stroke="#c8c8c8" stroke-width="1" stroke-linecap="butt"/>
<line x1="259.5" y1="2611.62" x2="264" y2="2611.62" stroke="#c8c8c8" stroke-width="1" stroke-linecap="butt"/>
<line x1="259.5" y1="2601.66" x2="264" y2="2601.66" stroke="#c8c8c8" stroke-width="1" stroke-linecap="butt"/>
<line x1="259.5" y1="2581.7400000000002" x2="264" y2="2581.7400000000002" stroke="#c8c8c8" stroke-width="1" stroke-linecap="butt"/>
<line x1="259.5" y1="2571.78" x2="264" y2="2571.78" stroke="#c8c8c8" stroke-width="1" stroke-linecap="butt"/>
<line x1="259.5" y1="2561.82" x2="264" y2="2561.82" stroke="#c8c8c8" stroke-width="1" stroke-linecap="butt"/>
<line x1="259.5" y1="2551.86" x2="264" y2="2551.86" stroke="#c8c8c8" stroke-width="1" stroke-linecap="butt"/>
<line x1="259.5" y1="2531.94" x2="264" y2="2531.94" stroke="#c8c8c8" stroke-width="1" stroke-linecap="butt"/>
<line x1="259.5" y1="2521.98" x2="264" y2="2521.98" stroke="#c8c8c8" stroke-width="1" stroke-linecap="butt"/>
<line x1="259.5" y1="2512.02" x2="264" y2="2512.02" stroke="#c8c8c8" stroke-width="1" stroke-linecap="butt"/>
<line x1="259.5" y1="2502.06" x2="264" y2="2502.06" stroke="#c8c8c8" stroke-width="1" stroke-linecap="butt"/>
<line x1="259.5" y1="2482.1400000000003" x2="264" y2="2482.1400000000003" stroke="#c8c8c8" stroke-width="1" stroke-linecap="butt"/>
<line x1="259.5" y1="2472.1800000000003" x2="264" y2="2472.1800000000003" stroke="#c8c8c8" stroke-width="1" stroke-linecap="butt"/>
<line x1="259.5" y1="2462.2200000000003" x2="264" y2="2462.2200000000003" stroke="#c8c8c8" stroke-width="1" stroke-linecap="butt"/>
<line x1="259.5" y1="2452.26" x2="264" y2="2452.26" stroke="#c8c8c8" stroke-width="1" stroke-linecap="butt"/>
<line x1="259.5" y1="2432.34" x2="264" y2="2432.34" stroke="#c8c8c8" stroke-width="1" stroke-linecap="butt"/>
<line x1="259.5" y1="2422.38" x2="264" y2="2422.38" stroke="#c8c8c8" stroke-width="1" stroke-linecap="butt"/>
<line x1="259.5" y1="2412.42" x2="264" y2="2412.42" stroke="#c8c8c8" stroke-width="1" stroke-linecap="butt"/>
<line x1="259.5" y1="2402.46" x2="264" y2="2402.46" stroke="#c8c8c8" stroke-width="1" stroke-linecap="butt"/>
<line x1="259.5" y1="2382.54" x2="264" y2="2382.54" stroke="#c8c8c8" stroke-width="1" stroke-linecap="butt"/>
<line x1="259.5" y1="2372.58" x2="264" y2="2372.58" stroke="#c8c8c8" stroke-width="1" stroke-linecap="butt"/>
<line x1="259.5" y1="2362.62" x2="264" y2="2362.62" stroke="#c8c8c8" stroke-width="1" stroke-linecap="butt"/>
<line x1="259.5" y1="2352.66" x2="264" y2="2352.66" stroke="#c8c8c8" stroke-width="1" stroke-linecap="butt"/>
<line x1="259.5" y1="2332.74" x2="264" y2="2332.74" stroke="#c8c8c8" stroke-width="1" stroke-linecap="butt"/>
<line x1="259.5" y1="2322.78" x2="264" y2="2322.78" stroke="#c8c8c8" stroke-width="1" stroke-linecap="butt"/>
<line x1="259.5" y1="2312.82" x2="264" y2="2312.82" stroke="#c8c8c8" stroke-width="1" stroke-linecap="butt"/>
<line x1="259.5" y1="2302.86" x2="264" y2="2302.86" stroke="#c8c8c8" stroke-width="1" stroke-linecap="butt"/>
<line x1="259.5" y1="2282.94" x2="264" y2="2282.94" stroke="#c8c8c8" stroke-width="1" stroke-linecap="butt"/>
<line x1="259.5" y1="2272.98" x2="264" y2="2272.98" stroke="#c8c8c8" stroke-width="1" stroke-linecap="butt"/>
<line x1="259.5" y1="2263.02" x2="264" y2="2263.02" stroke="#c8c8c8" stroke-width="1" stroke-linecap="butt"/>
<line x1="259.5" y1="2253.06" x2="264" y2="2253.06" stroke="#c8c8c8" stroke-width="1" stroke-linecap="butt"/>
<line x1="259.5" y1="2233.1400000000003" x2="264" y2="2233.1400000000003" stroke="#c8c8c8" stroke-width="1" stroke-linecap="butt"/>
<line x1="259.5" y1="2223.1800000000003" x2="264" y2="2223.1800000000003" stroke="#c8c8c8" stroke-width="1" stroke-linecap="butt"/>
<line x1="259.5" y1="2213.2200000000003" x2="264" y2="2213.2200000000003" stroke="#c8c8c8" stroke-width="1" stroke-linecap="butt"/>
<line x1="259.5" y1="2203.26" x2="264" y2="2203.26" stroke="#c8c8c8" stroke-width="1" stroke-linecap="butt"/>
<line x1="259.5" y1="2183.34" x2="264" y2="2183.34" stroke="#c8c8c8" stroke-width="1" stroke-linecap="butt"/>
<line x1="259.5" y1="2173.38" x2="264" y2="2173.38" stroke="#c8c8c8" stroke-width="1" stroke-linecap="butt"/>
<line x1="259.5" y1="2163.42" x2="264" y2="2163.42" stroke="#c8c8c8" stroke-width="1" stroke-linecap="butt"/>
<line x1="259.5" y1="2153.46" x2="264" y2="2153.46" stroke="#c8c8c8" stroke-width="1" stroke-linecap="butt"/>
<line x1="259.5" y1="2133.54" x2="264" y2="2133.54" stroke="#c8c8c8" stroke-width="1" stroke-linecap="butt"/>
<line x1="259.5" y1="2123.58" x2="264" y2="2123.58" stroke="#c8c8c8" stroke-width="1" stroke-linecap="butt"/>
<line x1="259.5" y1="2113.62" x2="264" y2="2113.62" stroke="#c8c8c8" stroke-width="1" stroke-linecap="butt"/>
<line x1="259.5" y1="2103.66" x2="264" y2="2103.66" stroke="#c8c8c8" stroke-width="1" stroke-linecap="butt"/>
<line x1="259.5" y1="2083.74" x2="264" y2="2083.74" stroke="#c8c8c8" stroke-width="1" stroke-linecap="butt"/>
<line x1="259.5" y1="2073.78" x2="264" y2="2073.78" stroke="#c8c8c8" stroke-width="1" stroke-linecap="butt"/>
<line x1="259.5" y1="2063.82" x2="264" y2="2063.82" stroke="#c8c8c8" stroke-width="1" stroke-linecap="butt"/>
<line x1="259.5" y1="2053.86" x2="264" y2="2053.86" stroke="#c8c8c8" stroke-width="1" stroke-linecap="butt"/>
<line x1="259.5" y1="2033.94" x2="264" y2="2033.94" stroke="#c8c8c8" stroke-width="1" stroke-linecap="butt"/>
<line x1="259.5" y1="2023.98" x2="264" y2="2023.98" stroke="#c8c8c8" stroke-width="1" stroke-linecap="butt"/>
<line x1="259.5" y1="2014.02" x2="264" y2="2014.02" stroke="#c8c8c8" stroke-width="1" stroke-linecap="butt"/>
<line x1="259.5" y1="2004.06" x2="264" y2="2004.06" stroke="#c8c8c8" stroke-width="1" stroke-linecap="butt"/>
<line x1="259.5" y1="1984.14" x2="264" y2="1984.14" stroke="#c8c8c8" stroke-width="1" stroke-linecap="butt"/>
<line x1="259.5" y1="1974.18" x2="264" y2="1974.18" stroke="#c8c8c8" stroke-width="1" stroke-linecap="butt"/>
<line x1="259.5" y1="1964.22" x2="264" y2="1964.22" stroke="#c8c8c8" stroke-width="1" stroke-linecap="butt"/>
<line x1="259.5" y1="1954.26" x2="264" y2="1954.26" stroke="#c8c8c8" stroke-width="1" stroke-linecap="butt"/>
<line x1="259.5" y1="1934.3400000000001" x2="264" y2="1934.3400000000001" stroke="#c8c8c8" stroke-width="1" stroke-linecap="butt"/>
<line x1="259.5" y1="1924.38" x2="264" y2="1924.38" stroke="#c8c8c8" stroke-width="1" stroke-linecap="butt"/>
<line x1="259.5" y1="1914.42" x2="264" y2="1914.42" stroke="#c8c8c8" stroke-width="1" stroke-linecap="butt"/>
<line x1="259.5" y1="1904.46" x2="264" y2="1904.46" stroke="#c8c8c8" stroke-width="1" stroke-linecap="butt"/>
<line x1="259.5" y1="1884.54" x2="264" y2="1884.54" stroke="#c8c8c8" stroke-width="1" stroke-linecap="butt"/>
<line x1="259.5" y1="1874.58" x2="264" y2="1874.58" stroke="#c8c8c8" stroke-width="1" stroke-linecap="butt"/>
<line x1="259.5" y1="1864.62" x2="264" y2="1864.62" stroke="#c8c8c8" stroke-width="1" stroke-linecap="butt"/>
<line x1="259.5" y1="1854.66" x2="264" y2="1854.66" stroke="#c8c8c8" stroke-width="1" stroke-linecap="butt"/>
<line x1="259.5" y1="1834.74" x2="264" y2="1834.74" stroke="#c8c8c8" stroke-width="1" stroke-linecap="butt"/>
<line x1="259.5" y1="1824.78" x2="264" y2="1824.78" stroke="#c8c8c8" stroke-width="1" stroke-linecap="butt"/>
<line x1="259.5" y1="1814.82" x2="264" y2="1814.82" stroke="#c8c8c8" stroke-width="1" stroke-linecap="butt"/>
<line x1="259.5" y1="1804.8600000000001" x2="264" y2="1804.8600000000001" stroke="#c8c8c8" stroke-width="1" stroke-linecap="butt"/>
<line x1="259.5" y1="1784.94" x2="264" y2="1784.94" stroke="#c8c8c8" stroke-width="1" stroke-linecap="butt"/>
<line x1="259.5" y1="1774.98" x2="264" y2="1774.98" stroke="#c8c8c8" stroke-width="1" stroke-linecap="butt"/>
<line x1="259.5" y1="1765.02" x2="264" y2="1765.02" stroke="#c8c8c8" stroke-width="1" stroke-linecap="butt"/>
<line x1="259.5" y1="1755.06" x2="264" y2="1755.06" stroke="#c8c8c8" stroke-width="1" stroke-linecap="butt"/>
<line x1="259.5" y1="1735.14" x2="264" y2="1735.14" stroke="#c8c8c8" stroke-width="1" stroke-linecap="butt"/>
<line x1="259.5" y1="1725.18" x2="264" y2="1725.18" stroke="#c8c8c8" stroke-width="1" stroke-linecap="butt"/>
<line x1="259.5" y1="1715.22" x2="264" y2="1715.22" stroke="#c8c8c8" stroke-width="1" stroke-linecap="butt"/>
<line x1="259.5" y1="1705.26" x2="264" y2="1705.26" stroke="#c8c8c8" stroke-width="1" stroke-linecap="butt"/>
<line x1="259.5" y1="1685.34" x2="264" y2="1685.34" stroke="#c8c8c8" stroke-width="1" stroke-linecap="butt"/>
<line x1="259.5" y1="1675.38" x2="264" y2="1675.38" stroke="#c8c8c8" stroke-width="1" stroke-linecap="butt"/>
<line x1="259.5" y1="1665.42" x2="264" y2="1665.42" stroke="#c8c8c8" stroke-width="1" stroke-linecap="butt"/>
<line x1="259.5" y1="1655.46" x2="264" y2="1655.46" stroke="#c8c8c8" stroke-width="1" stroke-linecap="butt"/>
<line x1="259.5" y1="1635.54" x2="264" y2="1635.54" stroke="#c8c8c8" stroke-width="1" stroke-linecap="butt"/>
<line x1="259.5" y1="1625.58" x2="264" y2="1625.58" stroke="#c8c8c8" stroke-width="1" stroke-linecap="butt"/>
<line x1="264.5" y1="1616.5" x2="264.5" y2="2669.5" stroke="#141414" stroke-width="4.8" stroke-linecap="butt"/>
<line x1="262" y1="2666.2" x2="2324.5" y2="2666.2" stroke="#b8b8b8" stroke-width="1.4" stroke-linecap="butt"/>
<line x1="262" y1="2668.6" x2="2324.5" y2="2668.6" stroke="#141414" stroke-width="3.8" stroke-linecap="butt"/>
<line x1="224.5" y1="2641.7" x2="264" y2="2641.7" stroke="#141414" stroke-width="4.9" stroke-linecap="butt"/>
<text x="196.5" y="2656.3" font-size="46.5" text-anchor="end" fill="#1a1a1a">0</text>
<line x1="224.5" y1="2541.1" x2="264" y2="2541.1" stroke="#141414" stroke-width="4.9" stroke-linecap="butt"/>
<text x="199.5" y="2555.7" font-size="46.5" text-anchor="end" fill="#1a1a1a">10</text>
<line x1="224.5" y1="2441.9" x2="264" y2="2441.9" stroke="#141414" stroke-width="4.9" stroke-linecap="butt"/>
<text x="199.5" y="2456.5" font-size="46.5" text-anchor="end" fill="#1a1a1a">20</text>
<line x1="224.5" y1="2343" x2="264" y2="2343" stroke="#141414" stroke-width="4.9" stroke-linecap="butt"/>
<text x="199.5" y="2357.6" font-size="46.5" text-anchor="end" fill="#1a1a1a">30</text>
<line x1="224.5" y1="2243.8" x2="264" y2="2243.8" stroke="#141414" stroke-width="4.9" stroke-linecap="butt"/>
<text x="199.5" y="2258.4" font-size="46.5" text-anchor="end" fill="#1a1a1a">40</text>
<line x1="224.5" y1="2140.6" x2="264" y2="2140.6" stroke="#141414" stroke-width="4.9" stroke-linecap="butt"/>
<text x="199.5" y="2155.2" font-size="46.5" text-anchor="end" fill="#1a1a1a">50</text>
<line x1="224.5" y1="2044.3" x2="264" y2="2044.3" stroke="#141414" stroke-width="4.9" stroke-linecap="butt"/>
<text x="199.5" y="2058.9" font-size="46.5" text-anchor="end" fill="#1a1a1a">60</text>
<line x1="224.5" y1="1944.6" x2="264" y2="1944.6" stroke="#141414" stroke-width="4.9" stroke-linecap="butt"/>
<text x="199.5" y="1959.2" font-size="46.5" text-anchor="end" fill="#1a1a1a">70</text>
<line x1="224.5" y1="1844.8" x2="264" y2="1844.8" stroke="#141414" stroke-width="4.9" stroke-linecap="butt"/>
<text x="199.5" y="1859.4" font-size="46.5" text-anchor="end" fill="#1a1a1a">80</text>
<line x1="224.5" y1="1747.8" x2="264" y2="1747.8" stroke="#141414" stroke-width="4.9" stroke-linecap="butt"/>
<text x="199.5" y="1762.4" font-size="46.5" text-anchor="end" fill="#1a1a1a">90</text>
<line x1="224.5" y1="1645.8" x2="264" y2="1645.8" stroke="#141414" stroke-width="4.9" stroke-linecap="butt"/>
<text x="195.5" y="1660.4" font-size="46.5" text-anchor="end" fill="#1a1a1a">100</text>
<line x1="261.0" y1="2667.5" x2="261.0" y2="2706.5" stroke="#141414" stroke-width="4.6" stroke-linecap="butt"/>
<text x="258.2" y="2769.7" font-size="46" text-anchor="middle" fill="#1a1a1a">0</text>
<line x1="621.0" y1="2667.5" x2="621.0" y2="2706.5" stroke="#141414" stroke-width="4.6" stroke-linecap="butt"/>
<text x="620" y="2769.7" font-size="46" text-anchor="middle" fill="#1a1a1a">5,000</text>
<line x1="978.0" y1="2667.5" x2="978.0" y2="2706.5" stroke="#141414" stroke-width="4.6" stroke-linecap="butt"/>
<text x="978" y="2769.7" font-size="46" text-anchor="middle" fill="#1a1a1a">10,000</text>
<line x1="1335.4" y1="2667.5" x2="1335.4" y2="2706.5" stroke="#141414" stroke-width="4.6" stroke-linecap="butt"/>
<text x="1336.5" y="2769.7" font-size="46" text-anchor="middle" fill="#1a1a1a">15,000</text>
<line x1="1695.6" y1="2667.5" x2="1695.6" y2="2706.5" stroke="#141414" stroke-width="4.6" stroke-linecap="butt"/>
<text x="1694.6" y="2769.7" font-size="46" text-anchor="middle" fill="#1a1a1a">20,000</text>
<line x1="2051.6" y1="2667.5" x2="2051.6" y2="2706.5" stroke="#141414" stroke-width="4.6" stroke-linecap="butt"/>
<text x="2049.8" y="2769.7" font-size="46" text-anchor="middle" fill="#1a1a1a">25,000</text>
<line x1="297.0" y1="2670.4" x2="297.0" y2="2675.0" stroke="#b4b4b4" stroke-width="1.8" stroke-linecap="butt"/>
<line x1="333.0" y1="2670.4" x2="333.0" y2="2675.0" stroke="#b4b4b4" stroke-width="1.8" stroke-linecap="butt"/>
<line x1="369.0" y1="2670.4" x2="369.0" y2="2675.0" stroke="#b4b4b4" stroke-width="1.8" stroke-linecap="butt"/>
<line x1="405.0" y1="2670.4" x2="405.0" y2="2680.0" stroke="#9c9c9c" stroke-width="1.8" stroke-linecap="butt"/>
<line x1="441.0" y1="2670.4" x2="441.0" y2="2675.0" stroke="#b4b4b4" stroke-width="1.8" stroke-linecap="butt"/>
<line x1="477.0" y1="2670.4" x2="477.0" y2="2675.0" stroke="#b4b4b4" stroke-width="1.8" stroke-linecap="butt"/>
<line x1="513.0" y1="2670.4" x2="513.0" y2="2675.0" stroke="#b4b4b4" stroke-width="1.8" stroke-linecap="butt"/>
<line x1="549.0" y1="2670.4" x2="549.0" y2="2680.0" stroke="#9c9c9c" stroke-width="1.8" stroke-linecap="butt"/>
<line x1="585.0" y1="2670.4" x2="585.0" y2="2675.0" stroke="#b4b4b4" stroke-width="1.8" stroke-linecap="butt"/>
<line x1="656.7" y1="2670.4" x2="656.7" y2="2675.0" stroke="#b4b4b4" stroke-width="1.8" stroke-linecap="butt"/>
<line x1="692.4" y1="2670.4" x2="692.4" y2="2680.0" stroke="#9c9c9c" stroke-width="1.8" stroke-linecap="butt"/>
<line x1="728.1" y1="2670.4" x2="728.1" y2="2675.0" stroke="#b4b4b4" stroke-width="1.8" stroke-linecap="butt"/>
<line x1="763.8" y1="2670.4" x2="763.8" y2="2675.0" stroke="#b4b4b4" stroke-width="1.8" stroke-linecap="butt"/>
<line x1="799.5" y1="2670.4" x2="799.5" y2="2675.0" stroke="#b4b4b4" stroke-width="1.8" stroke-linecap="butt"/>
<line x1="835.2" y1="2670.4" x2="835.2" y2="2680.0" stroke="#9c9c9c" stroke-width="1.8" stroke-linecap="butt"/>
<line x1="870.9" y1="2670.4" x2="870.9" y2="2675.0" stroke="#b4b4b4" stroke-width="1.8" stroke-linecap="butt"/>
<line x1="906.6" y1="2670.4" x2="906.6" y2="2675.0" stroke="#b4b4b4" stroke-width="1.8" stroke-linecap="butt"/>
<line x1="942.3" y1="2670.4" x2="942.3" y2="2675.0" stroke="#b4b4b4" stroke-width="1.8" stroke-linecap="butt"/>
<line x1="1013.7" y1="2670.4" x2="1013.7" y2="2675.0" stroke="#b4b4b4" stroke-width="1.8" stroke-linecap="butt"/>
<line x1="1049.5" y1="2670.4" x2="1049.5" y2="2675.0" stroke="#b4b4b4" stroke-width="1.8" stroke-linecap="butt"/>
<line x1="1085.2" y1="2670.4" x2="1085.2" y2="2675.0" stroke="#b4b4b4" stroke-width="1.8" stroke-linecap="butt"/>
<line x1="1121.0" y1="2670.4" x2="1121.0" y2="2680.0" stroke="#9c9c9c" stroke-width="1.8" stroke-linecap="butt"/>
<line x1="1156.7" y1="2670.4" x2="1156.7" y2="2675.0" stroke="#b4b4b4" stroke-width="1.8" stroke-linecap="butt"/>
<line x1="1192.4" y1="2670.4" x2="1192.4" y2="2675.0" stroke="#b4b4b4" stroke-width="1.8" stroke-linecap="butt"/>
<line x1="1228.2" y1="2670.4" x2="1228.2" y2="2675.0" stroke="#b4b4b4" stroke-width="1.8" stroke-linecap="butt"/>
<line x1="1263.9" y1="2670.4" x2="1263.9" y2="2680.0" stroke="#9c9c9c" stroke-width="1.8" stroke-linecap="butt"/>
<line x1="1299.7" y1="2670.4" x2="1299.7" y2="2675.0" stroke="#b4b4b4" stroke-width="1.8" stroke-linecap="butt"/>
<line x1="1371.4" y1="2670.4" x2="1371.4" y2="2675.0" stroke="#b4b4b4" stroke-width="1.8" stroke-linecap="butt"/>
<line x1="1407.4" y1="2670.4" x2="1407.4" y2="2680.0" stroke="#9c9c9c" stroke-width="1.8" stroke-linecap="butt"/>
<line x1="1443.5" y1="2670.4" x2="1443.5" y2="2675.0" stroke="#b4b4b4" stroke-width="1.8" stroke-linecap="butt"/>
<line x1="1479.5" y1="2670.4" x2="1479.5" y2="2675.0" stroke="#b4b4b4" stroke-width="1.8" stroke-linecap="butt"/>
<line x1="1515.5" y1="2670.4" x2="1515.5" y2="2675.0" stroke="#b4b4b4" stroke-width="1.8" stroke-linecap="butt"/>
<line x1="1551.5" y1="2670.4" x2="1551.5" y2="2680.0" stroke="#9c9c9c" stroke-width="1.8" stroke-linecap="butt"/>
<line x1="1587.5" y1="2670.4" x2="1587.5" y2="2675.0" stroke="#b4b4b4" stroke-width="1.8" stroke-linecap="butt"/>
<line x1="1623.6" y1="2670.4" x2="1623.6" y2="2675.0" stroke="#b4b4b4" stroke-width="1.8" stroke-linecap="butt"/>
<line x1="1659.6" y1="2670.4" x2="1659.6" y2="2675.0" stroke="#b4b4b4" stroke-width="1.8" stroke-linecap="butt"/>
<line x1="1731.2" y1="2670.4" x2="1731.2" y2="2675.0" stroke="#b4b4b4" stroke-width="1.8" stroke-linecap="butt"/>
<line x1="1766.8" y1="2670.4" x2="1766.8" y2="2675.0" stroke="#b4b4b4" stroke-width="1.8" stroke-linecap="butt"/>
<line x1="1802.4" y1="2670.4" x2="1802.4" y2="2675.0" stroke="#b4b4b4" stroke-width="1.8" stroke-linecap="butt"/>
<line x1="1838.0" y1="2670.4" x2="1838.0" y2="2680.0" stroke="#9c9c9c" stroke-width="1.8" stroke-linecap="butt"/>
<line x1="1873.6" y1="2670.4" x2="1873.6" y2="2675.0" stroke="#b4b4b4" stroke-width="1.8" stroke-linecap="butt"/>
<line x1="1909.2" y1="2670.4" x2="1909.2" y2="2675.0" stroke="#b4b4b4" stroke-width="1.8" stroke-linecap="butt"/>
<line x1="1944.8" y1="2670.4" x2="1944.8" y2="2675.0" stroke="#b4b4b4" stroke-width="1.8" stroke-linecap="butt"/>
<line x1="1980.4" y1="2670.4" x2="1980.4" y2="2680.0" stroke="#9c9c9c" stroke-width="1.8" stroke-linecap="butt"/>
<line x1="2016.0" y1="2670.4" x2="2016.0" y2="2675.0" stroke="#b4b4b4" stroke-width="1.8" stroke-linecap="butt"/>
<line x1="2087.7" y1="2670.4" x2="2087.7" y2="2675.0" stroke="#b4b4b4" stroke-width="1.8" stroke-linecap="butt"/>
<line x1="2123.9" y1="2670.4" x2="2123.9" y2="2680.0" stroke="#9c9c9c" stroke-width="1.8" stroke-linecap="butt"/>
<line x1="2160.0" y1="2670.4" x2="2160.0" y2="2675.0" stroke="#b4b4b4" stroke-width="1.8" stroke-linecap="butt"/>
<line x1="2196.2" y1="2670.4" x2="2196.2" y2="2675.0" stroke="#b4b4b4" stroke-width="1.8" stroke-linecap="butt"/>
<line x1="2232.3" y1="2670.4" x2="2232.3" y2="2675.0" stroke="#b4b4b4" stroke-width="1.8" stroke-linecap="butt"/>
<line x1="2268.4" y1="2670.4" x2="2268.4" y2="2680.0" stroke="#9c9c9c" stroke-width="1.8" stroke-linecap="butt"/>
<line x1="2304.6" y1="2670.4" x2="2304.6" y2="2675.0" stroke="#b4b4b4" stroke-width="1.8" stroke-linecap="butt"/>
<text x="103.5" y="2500.5" font-size="63" textLength="638" lengthAdjust="spacingAndGlyphs" transform="rotate(-90 103.5 2500.5)" fill="#1a1a1a">Percentage of permuted</text>
<text x="103.5" y="1837" font-size="63" textLength="122.5" lengthAdjust="spacingAndGlyphs" transform="rotate(-90 103.5 1837)" fill="#1a1a1a">trees</text>
<text x="911" y="2848.2" font-size="62" textLength="762" lengthAdjust="spacingAndGlyphs" fill="#1a1a1a">Genome nucleotide position</text>
<text x="993.5" y="1970" font-size="63" textLength="192" lengthAdjust="spacingAndGlyphs" fill="#1a1a1a">Query:</text>
<text x="1215" y="1970" font-size="63" textLength="214.5" lengthAdjust="spacingAndGlyphs" fill="#1a1a1a">YN3723</text>
<rect x="995.5" y="2034.7" width="82.5" height="18.5" fill="#ff0000"/>
<text x="1112" y="2067.7" font-size="63" textLength="213" lengthAdjust="spacingAndGlyphs" fill="#1a1a1a">YN4996</text>
<rect x="995.5" y="2116.7" width="82.5" height="18.5" fill="#55e600"/>
<text x="1112" y="2151" font-size="63" textLength="213" lengthAdjust="spacingAndGlyphs" fill="#1a1a1a">YN7345</text>
<rect x="995.5" y="2194.2" width="82.5" height="18.5" fill="#2814ff"/>
<text x="1112" y="2233.3" font-size="63" textLength="213" lengthAdjust="spacingAndGlyphs" fill="#1a1a1a">YN3740</text>
<text x="26" y="3005.5" font-size="80" textLength="62" lengthAdjust="spacingAndGlyphs" fill="#000">C</text>
<rect x="310.8" y="3033" width="853.6" height="98" fill="#808080" stroke="#0a0a0a" stroke-width="4.4"/>
<rect x="1164.4" y="3033" width="549.6" height="98" fill="#808080" stroke="#0a0a0a" stroke-width="4.4"/>
<rect x="1714" y="3030.5" width="282.3" height="97.3" fill="#808080" stroke="#0a0a0a" stroke-width="4.4"/>
<rect x="1996.3" y="3030.5" width="47.4" height="97.3" fill="#fff" stroke="#0a0a0a" stroke-width="4.4"/>
<rect x="2043.7" y="3030.5" width="19.7" height="97.3" fill="#a6a6a6" stroke="#0a0a0a" stroke-width="4.4"/>
<rect x="2063.4" y="3030.5" width="51.8" height="97.3" fill="#a6a6a6" stroke="#0a0a0a" stroke-width="4.4"/>
<rect x="2115.2" y="3030.5" width="88.6" height="97.3" fill="#a6a6a6" stroke="#0a0a0a" stroke-width="4.4"/>
<rect x="2203.8" y="3030.5" width="18.5" height="97.3" fill="#fff" stroke="#0a0a0a" stroke-width="4.4"/>
<rect x="2222.3" y="3030.5" width="34.5" height="97.3" fill="#fff" stroke="#0a0a0a" stroke-width="4.4"/>
<line x1="2043.7" y1="3030.5" x2="2043.7" y2="3127.8" stroke="#0a0a0a" stroke-width="6.5" stroke-linecap="butt"/>
<line x1="2115.2" y1="3030.5" x2="2115.2" y2="3127.8" stroke="#0a0a0a" stroke-width="7.5" stroke-linecap="butt"/>
<line x1="2203.8" y1="3030.5" x2="2203.8" y2="3127.8" stroke="#0a0a0a" stroke-width="6.5" stroke-linecap="butt"/>
<rect x="2236" y="3130" width="13.4" height="102" fill="#fff" stroke="#0a0a0a" stroke-width="3.6"/>
<line x1="2217.4" y1="3130" x2="2202.6" y2="3165.7" stroke="#0a0a0a" stroke-width="3.2" stroke-linecap="butt"/>
<text x="737" y="3090.5" font-size="53" text-anchor="middle" textLength="56.8" lengthAdjust="spacingAndGlyphs" fill="#1a1a1a">1a</text>
<text x="1440.4" y="3094.3" font-size="53" text-anchor="middle" textLength="59.5" lengthAdjust="spacingAndGlyphs" fill="#1a1a1a">1b</text>
<text x="1855.5" y="3093.8" font-size="55" text-anchor="middle" textLength="33.5" lengthAdjust="spacingAndGlyphs" fill="#1a1a1a">S</text>
<text x="2020" y="3089.5" font-size="53" text-anchor="middle" fill="#1a1a1a">3</text>
<text x="2089.8" y="3094.2" font-size="53" text-anchor="middle" textLength="43" lengthAdjust="spacingAndGlyphs" fill="#1a1a1a">M</text>
<text x="2159.5" y="3095" font-size="53" text-anchor="middle" textLength="41" lengthAdjust="spacingAndGlyphs" fill="#1a1a1a">N</text>
<text x="2058.2" y="3186.6" font-size="53" text-anchor="middle" fill="#1a1a1a">E</text>
<text x="2153.5" y="3206.3" font-size="53" textLength="54" lengthAdjust="spacingAndGlyphs" fill="#1a1a1a">7a</text>
<text x="2212.5" y="3009.3" font-size="53" textLength="54.5" lengthAdjust="spacingAndGlyphs" fill="#1a1a1a">7b</text>
<text x="2218.5" y="3277.7" font-size="53" textLength="52" lengthAdjust="spacingAndGlyphs" fill="#1a1a1a">7c</text>
</svg>
</body></html>
